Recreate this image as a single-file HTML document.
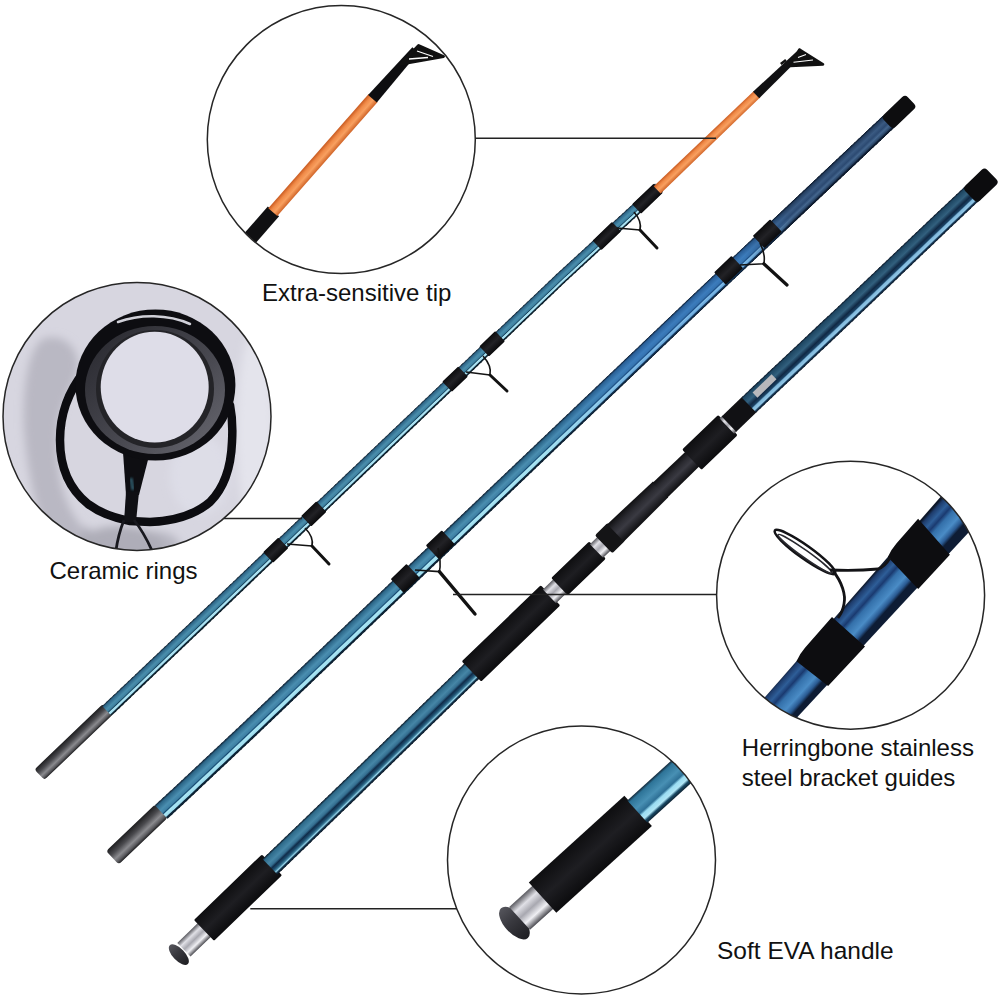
<!DOCTYPE html>
<html><head><meta charset="utf-8"><style>
html,body{margin:0;padding:0;background:#fff;width:1000px;height:1000px;overflow:hidden}
svg{display:block}
</style></head><body><svg width="1000" height="1000" viewBox="0 0 1000 1000">
<defs><linearGradient id="blueA" x1="0" y1="0" x2="0" y2="1"><stop offset="0" stop-color="#0e1e2c"/><stop offset="0.12" stop-color="#2e6688"/><stop offset="0.4" stop-color="#4a8eac"/><stop offset="0.58" stop-color="#3e80a0"/><stop offset="0.65" stop-color="#184660"/><stop offset="0.72" stop-color="#b0e6f4"/><stop offset="0.83" stop-color="#a4def0"/><stop offset="0.9" stop-color="#102838"/><stop offset="1" stop-color="#081820"/></linearGradient><linearGradient id="blueB" x1="0" y1="0" x2="0" y2="1"><stop offset="0" stop-color="#0e1e30"/><stop offset="0.12" stop-color="#2c6688"/><stop offset="0.4" stop-color="#4a8eb0"/><stop offset="0.58" stop-color="#3e80a4"/><stop offset="0.64" stop-color="#164a72"/><stop offset="0.7" stop-color="#aae6f4"/><stop offset="0.85" stop-color="#9edcee"/><stop offset="0.9" stop-color="#0e2a40"/><stop offset="1" stop-color="#081826"/></linearGradient><linearGradient id="blueC" x1="0" y1="0" x2="0" y2="1"><stop offset="0" stop-color="#0a1826"/><stop offset="0.1" stop-color="#2e6a8a"/><stop offset="0.35" stop-color="#4686a6"/><stop offset="0.5" stop-color="#346e90"/><stop offset="0.6" stop-color="#102c4a"/><stop offset="0.72" stop-color="#1e5070"/><stop offset="0.8" stop-color="#3e7e9c"/><stop offset="0.86" stop-color="#94d2e8"/><stop offset="0.92" stop-color="#143650"/><stop offset="1" stop-color="#081420"/></linearGradient><linearGradient id="blueCtop" x1="0" y1="0" x2="0" y2="1"><stop offset="0" stop-color="#0a1626"/><stop offset="0.08" stop-color="#1e4662"/><stop offset="0.35" stop-color="#32607e"/><stop offset="0.55" stop-color="#102844"/><stop offset="0.68" stop-color="#1a4264"/><stop offset="0.74" stop-color="#80b8dc"/><stop offset="0.86" stop-color="#90c6e6"/><stop offset="0.92" stop-color="#163858"/><stop offset="1" stop-color="#0a1624"/></linearGradient><linearGradient id="blueZ4" x1="0" y1="0" x2="0" y2="1"><stop offset="0" stop-color="#12283a"/><stop offset="0.1" stop-color="#2e7498"/><stop offset="0.4" stop-color="#4890b4"/><stop offset="0.6" stop-color="#2e7096"/><stop offset="0.68" stop-color="#9adcf2"/><stop offset="0.82" stop-color="#b0e6f6"/><stop offset="0.9" stop-color="#1a4a66"/><stop offset="1" stop-color="#0e2232"/></linearGradient><linearGradient id="blueBmid" x1="0" y1="0" x2="0" y2="1"><stop offset="0" stop-color="#122844"/><stop offset="0.1" stop-color="#2a609a"/><stop offset="0.4" stop-color="#3c7cbc"/><stop offset="0.58" stop-color="#3674b2"/><stop offset="0.66" stop-color="#1e5088"/><stop offset="0.72" stop-color="#80bce8"/><stop offset="0.85" stop-color="#6aa8dc"/><stop offset="0.91" stop-color="#163a60"/><stop offset="1" stop-color="#0c1e34"/></linearGradient><linearGradient id="blueBtop" x1="0" y1="0" x2="0" y2="1"><stop offset="0" stop-color="#0e1a2c"/><stop offset="0.1" stop-color="#243e60"/><stop offset="0.35" stop-color="#3a5a82"/><stop offset="0.55" stop-color="#2c4a72"/><stop offset="0.7" stop-color="#44668e"/><stop offset="0.85" stop-color="#2a4668"/><stop offset="0.92" stop-color="#12223a"/><stop offset="1" stop-color="#0a1424"/></linearGradient><linearGradient id="ferr" x1="0" y1="0" x2="0" y2="1"><stop offset="0" stop-color="#1e1e20"/><stop offset="0.35" stop-color="#4a4a4e"/><stop offset="0.65" stop-color="#8a8a8e"/><stop offset="0.85" stop-color="#5a5a5e"/><stop offset="1" stop-color="#1e1e20"/></linearGradient><linearGradient id="metal" x1="0" y1="0" x2="0" y2="1"><stop offset="0" stop-color="#5a5a60"/><stop offset="0.25" stop-color="#e0e0e6"/><stop offset="0.5" stop-color="#a8a8b0"/><stop offset="0.75" stop-color="#f0f0f4"/><stop offset="1" stop-color="#4a4a50"/></linearGradient><linearGradient id="eva" x1="0" y1="0" x2="0" y2="1"><stop offset="0" stop-color="#0e0e10"/><stop offset="0.5" stop-color="#1e1e22"/><stop offset="1" stop-color="#0c0c0e"/></linearGradient><linearGradient id="seat" x1="0" y1="0" x2="0" y2="1"><stop offset="0" stop-color="#0e0e10"/><stop offset="0.3" stop-color="#2a2a30"/><stop offset="0.55" stop-color="#3a3a42"/><stop offset="1" stop-color="#0e0e10"/></linearGradient><linearGradient id="orange" x1="0" y1="0" x2="0" y2="1"><stop offset="0" stop-color="#c85a20"/><stop offset="0.3" stop-color="#f08a48"/><stop offset="0.6" stop-color="#f8a060"/><stop offset="1" stop-color="#d06428"/></linearGradient><linearGradient id="capg" x1="0" y1="0" x2="0" y2="1"><stop offset="0" stop-color="#55555c"/><stop offset="0.4" stop-color="#3a3a40"/><stop offset="1" stop-color="#1e1e22"/></linearGradient><linearGradient id="wrap" x1="0" y1="0" x2="0" y2="1"><stop offset="0" stop-color="#0c0c0e"/><stop offset="0.5" stop-color="#222226"/><stop offset="1" stop-color="#0a0a0c"/></linearGradient>
<clipPath id="clip1"><circle cx="341.3" cy="139.6" r="134"/></clipPath>
<clipPath id="clip2"><circle cx="137" cy="416.4" r="134"/></clipPath>
<clipPath id="clip3"><circle cx="850.6" cy="595.2" r="134"/></clipPath>
<clipPath id="clip4"><circle cx="581.5" cy="860" r="134"/></clipPath>
<filter id="blur6" x="-50%" y="-50%" width="200%" height="200%"><feGaussianBlur stdDeviation="6"/></filter><filter id="blur4" x="-50%" y="-50%" width="200%" height="200%"><feGaussianBlur stdDeviation="4"/></filter><filter id="blur1"><feGaussianBlur stdDeviation="1"/></filter></defs>
<rect width="1000" height="1000" fill="#fff"/>
<g clip-path="url(#clip1)">
<g transform="translate(253,234.7) rotate(-48.7)">
 <rect x="-10" y="-7.5" width="41" height="15" fill="#101012"/>
 <rect x="30" y="-6" width="152" height="12" fill="url(#orange)"/>
 <path d="M181,-5.8 L246,-4 L246,4 L181,5.8Z" fill="#0e0e10"/>
</g>
<path d="M418.6,45.5 L443.5,56.5 L401,64Z" fill="#111" stroke="#111" stroke-width="3" stroke-linejoin="round"/>
<path d="M417,51 L433,56.5 M409,59 L428,57.5" stroke="#fff" stroke-width="1.3"/>
</g><g clip-path="url(#clip2)">
<rect x="0" y="280" width="280" height="280" fill="#d7d6e0"/>
<g filter="url(#blur4)">
<path d="M45,338 C62,334 76,345 78,362 C80,380 62,395 58,430 C55,470 62,505 85,530 C100,545 112,552 125,560 L60,565 C40,530 28,480 24,430 C22,390 28,345 45,338Z" fill="#b9b8c3"/>
<path d="M85,525 C95,540 110,550 130,556 L150,565 L80,565Z" fill="#a8a7b2"/>
<ellipse cx="150" cy="545" rx="30" ry="14" fill="#b8b7c2"/>
<ellipse cx="120" cy="548" rx="45" ry="22" fill="#aeadb8"/>
<ellipse cx="255" cy="430" rx="18" ry="100" fill="#e4e4ec"/>
<ellipse cx="200" cy="475" rx="30" ry="40" fill="#dddde7"/>
</g>
<path d="M84,372 C68,392 60,415 60,440 C60,465 68,488 88,504 C100,513 114,518 130,521 L150,522 C175,521 196,514 210,502 C224,488 231,468 232,442 C233,425 232,415 230,405" fill="none" stroke="#0c0c10" stroke-width="8.5" stroke-linecap="round"/>
<path d="M123,452 L150,452 L139,495 L126,495Z" fill="#0e0e12"/>
<path d="M126,492 L139,492 L136,522 L124,522Z" fill="#101014"/>
<path d="M124,520 C120,530 116,545 115,560 M134,520 C142,530 150,545 156,560" stroke="#18181e" stroke-width="2.8" fill="none"/>
<path d="M131,478 L133,490" stroke="#2f5a6a" stroke-width="3" fill="none" filter="url(#blur1)"/>
<ellipse cx="155.4" cy="385" rx="80" ry="75.6" fill="#0d0d11"/>
<linearGradient id="ringg" x1="0" y1="0" x2="1" y2="1"><stop offset="0" stop-color="#26262c"/><stop offset="0.6" stop-color="#4a4a52"/><stop offset="1" stop-color="#6a6a72"/></linearGradient>
<ellipse cx="155" cy="390" rx="70" ry="64" fill="url(#ringg)"/>
<ellipse cx="155" cy="389" rx="59" ry="59" fill="#242428"/>
<ellipse cx="154.7" cy="387.1" rx="54" ry="55.3" fill="#dedde8"/>
<path d="M118,322 C140,314 168,314 190,324" stroke="#d0d0d8" stroke-width="2.5" fill="none" stroke-linecap="round"/>
</g><g clip-path="url(#clip3)">
<linearGradient id="z3" gradientUnits="userSpaceOnUse" x1="853.0" y1="596.8" x2="878.3" y2="619.5">
<stop offset="0" stop-color="#0c1628"/><stop offset="0.08" stop-color="#1e3c6c"/><stop offset="0.25" stop-color="#2e5e98"/>
<stop offset="0.38" stop-color="#1a3a70"/><stop offset="0.5" stop-color="#3470aa"/><stop offset="0.75" stop-color="#4a8cc6"/>
<stop offset="0.9" stop-color="#2a5a92"/><stop offset="1" stop-color="#0e1c34"/>
</linearGradient>
<path d="M722.5,745.6 L983.5,447.9 L1011.4,486.2 L754.1,763.8Z" fill="url(#z3)"/>
<path d="M796.5,661.3 Q799.8,653.6 805.0,647.7 L832.0,616.9 L865.0,646.4 L828.1,686.1Z" fill="#0d0d10"/>
<path d="M887.8,557.0 Q891.2,549.4 896.4,543.5 L918.1,518.7 L949.9,554.8 L918.2,589.0Z" fill="#0d0d10"/>
<g transform="translate(805,552) rotate(35.5)"><ellipse cx="0" cy="0" rx="37" ry="6.5" fill="none" stroke="#131316" stroke-width="2.6"/><ellipse cx="1" cy="1.5" rx="33" ry="3.5" fill="none" stroke="#2a2a30" stroke-width="1.5"/></g>
<path d="M833,571 C842,582 846,595 844,604 C843,610 841,614 838,618" fill="none" stroke="#131316" stroke-width="2.8"/>
<path d="M830,570 C850,571 868,570 878,569 C884,567 887,563 890,558" fill="none" stroke="#131316" stroke-width="2.8"/>
</g><g clip-path="url(#clip4)">
<g transform="translate(515.9,921.75) rotate(-42.2)">
 <ellipse cx="-2" cy="0" rx="10" ry="20" fill="url(#capg)"/>
 <rect x="5" y="-15.5" width="33" height="31" fill="url(#metal)"/>
 <rect x="36" y="-20.5" width="129" height="41" fill="url(#eva)"/>
 <rect x="164" y="-15" width="140" height="30" fill="url(#blueZ4)"/>
</g>
</g>
<circle cx="341.3" cy="139.6" r="134" fill="none" stroke="#262626" stroke-width="1.5"/><circle cx="137" cy="416.4" r="134" fill="none" stroke="#262626" stroke-width="1.5"/><circle cx="850.6" cy="595.2" r="134" fill="none" stroke="#262626" stroke-width="1.5"/><circle cx="581.5" cy="860" r="134" fill="none" stroke="#262626" stroke-width="1.5"/>
<g transform="translate(42.00,774.50) rotate(-43.757)"><g transform="translate(0,-1.63)"><rect x="-2.0" y="-7.25" width="94.8" height="14.50" rx="3" fill="url(#ferr)" /></g><g transform="translate(0,-1.09)"><rect x="90.8" y="-6.75" width="7.0" height="13.49" rx="0" fill="url(#blueA)" /></g><g transform="translate(0,-1.07)"><rect x="95.8" y="-6.74" width="7.0" height="13.48" rx="0" fill="url(#blueA)" /></g><g transform="translate(0,-1.05)"><rect x="100.8" y="-6.73" width="7.0" height="13.47" rx="0" fill="url(#blueA)" /></g><g transform="translate(0,-1.03)"><rect x="105.8" y="-6.73" width="7.0" height="13.45" rx="0" fill="url(#blueA)" /></g><g transform="translate(0,-1.01)"><rect x="110.8" y="-6.72" width="7.0" height="13.44" rx="0" fill="url(#blueA)" /></g><g transform="translate(0,-0.99)"><rect x="115.8" y="-6.71" width="7.0" height="13.43" rx="0" fill="url(#blueA)" /></g><g transform="translate(0,-0.96)"><rect x="120.8" y="-6.71" width="7.0" height="13.41" rx="0" fill="url(#blueA)" /></g><g transform="translate(0,-0.94)"><rect x="125.9" y="-6.70" width="7.0" height="13.40" rx="0" fill="url(#blueA)" /></g><g transform="translate(0,-0.92)"><rect x="130.9" y="-6.69" width="7.0" height="13.39" rx="0" fill="url(#blueA)" /></g><g transform="translate(0,-0.90)"><rect x="135.9" y="-6.69" width="7.0" height="13.38" rx="0" fill="url(#blueA)" /></g><g transform="translate(0,-0.88)"><rect x="140.9" y="-6.68" width="7.0" height="13.36" rx="0" fill="url(#blueA)" /></g><g transform="translate(0,-0.86)"><rect x="145.9" y="-6.67" width="7.0" height="13.35" rx="0" fill="url(#blueA)" /></g><g transform="translate(0,-0.84)"><rect x="150.9" y="-6.67" width="7.0" height="13.34" rx="0" fill="url(#blueA)" /></g><g transform="translate(0,-0.82)"><rect x="155.9" y="-6.66" width="7.0" height="13.32" rx="0" fill="url(#blueA)" /></g><g transform="translate(0,-0.80)"><rect x="160.9" y="-6.65" width="7.0" height="13.31" rx="0" fill="url(#blueA)" /></g><g transform="translate(0,-0.78)"><rect x="165.9" y="-6.65" width="7.0" height="13.30" rx="0" fill="url(#blueA)" /></g><g transform="translate(0,-0.76)"><rect x="170.9" y="-6.64" width="7.0" height="13.28" rx="0" fill="url(#blueA)" /></g><g transform="translate(0,-0.74)"><rect x="175.9" y="-6.63" width="7.0" height="13.27" rx="0" fill="url(#blueA)" /></g><g transform="translate(0,-0.72)"><rect x="180.9" y="-6.63" width="7.0" height="13.26" rx="0" fill="url(#blueA)" /></g><g transform="translate(0,-0.70)"><rect x="185.9" y="-6.62" width="7.0" height="13.24" rx="0" fill="url(#blueA)" /></g><g transform="translate(0,-0.68)"><rect x="190.9" y="-6.62" width="7.0" height="13.23" rx="0" fill="url(#blueA)" /></g><g transform="translate(0,-0.66)"><rect x="195.9" y="-6.61" width="7.0" height="13.22" rx="0" fill="url(#blueA)" /></g><g transform="translate(0,-0.64)"><rect x="200.9" y="-6.60" width="7.0" height="13.20" rx="0" fill="url(#blueA)" /></g><g transform="translate(0,-0.62)"><rect x="205.9" y="-6.60" width="7.0" height="13.19" rx="0" fill="url(#blueA)" /></g><g transform="translate(0,-0.60)"><rect x="210.9" y="-6.59" width="7.0" height="13.18" rx="0" fill="url(#blueA)" /></g><g transform="translate(0,-0.58)"><rect x="215.9" y="-6.58" width="7.0" height="13.16" rx="0" fill="url(#blueA)" /></g><g transform="translate(0,-0.57)"><rect x="220.9" y="-6.58" width="7.0" height="13.15" rx="0" fill="url(#blueA)" /></g><g transform="translate(0,-0.56)"><rect x="225.9" y="-6.57" width="7.0" height="13.14" rx="0" fill="url(#blueA)" /></g><g transform="translate(0,-0.55)"><rect x="230.9" y="-6.56" width="7.0" height="13.12" rx="0" fill="url(#blueA)" /></g><g transform="translate(0,-0.54)"><rect x="235.9" y="-6.56" width="7.0" height="13.11" rx="0" fill="url(#blueA)" /></g><g transform="translate(0,-0.53)"><rect x="241.0" y="-6.55" width="7.0" height="13.10" rx="0" fill="url(#blueA)" /></g><g transform="translate(0,-0.52)"><rect x="246.0" y="-6.54" width="7.0" height="13.09" rx="0" fill="url(#blueA)" /></g><g transform="translate(0,-0.51)"><rect x="251.0" y="-6.54" width="7.0" height="13.07" rx="0" fill="url(#blueA)" /></g><g transform="translate(0,-0.50)"><rect x="256.0" y="-6.53" width="7.0" height="13.06" rx="0" fill="url(#blueA)" /></g><g transform="translate(0,-0.49)"><rect x="261.0" y="-6.52" width="7.0" height="13.05" rx="0" fill="url(#blueA)" /></g><g transform="translate(0,-0.48)"><rect x="266.0" y="-6.52" width="7.0" height="13.03" rx="0" fill="url(#blueA)" /></g><g transform="translate(0,-0.47)"><rect x="271.0" y="-6.51" width="7.0" height="13.02" rx="0" fill="url(#blueA)" /></g><g transform="translate(0,-0.46)"><rect x="276.0" y="-6.50" width="7.0" height="13.01" rx="0" fill="url(#blueA)" /></g><g transform="translate(0,-0.46)"><rect x="281.0" y="-6.50" width="7.0" height="12.99" rx="0" fill="url(#blueA)" /></g><g transform="translate(0,-0.45)"><rect x="286.0" y="-6.49" width="7.0" height="12.98" rx="0" fill="url(#blueA)" /></g><g transform="translate(0,-0.44)"><rect x="291.0" y="-6.48" width="7.0" height="12.97" rx="0" fill="url(#blueA)" /></g><g transform="translate(0,-0.43)"><rect x="296.0" y="-6.48" width="7.0" height="12.95" rx="0" fill="url(#blueA)" /></g><g transform="translate(0,-0.42)"><rect x="301.0" y="-6.47" width="7.0" height="12.94" rx="0" fill="url(#blueA)" /></g><g transform="translate(0,-0.41)"><rect x="306.0" y="-6.46" width="7.0" height="12.93" rx="0" fill="url(#blueA)" /></g><g transform="translate(0,-0.40)"><rect x="311.0" y="-6.46" width="7.0" height="12.91" rx="0" fill="url(#blueA)" /></g><g transform="translate(0,-0.39)"><rect x="316.0" y="-6.45" width="7.0" height="12.90" rx="0" fill="url(#blueA)" /></g><g transform="translate(0,-0.38)"><rect x="321.0" y="-6.44" width="7.0" height="12.89" rx="0" fill="url(#blueA)" /></g><g transform="translate(0,-0.37)"><rect x="326.0" y="-6.44" width="7.0" height="12.88" rx="0" fill="url(#blueA)" /></g><g transform="translate(0,-0.36)"><rect x="331.0" y="-6.43" width="7.0" height="12.86" rx="0" fill="url(#blueA)" /></g><g transform="translate(0,-0.35)"><rect x="336.0" y="-6.42" width="7.0" height="12.85" rx="0" fill="url(#blueA)" /></g><g transform="translate(0,-0.34)"><rect x="341.0" y="-6.42" width="7.0" height="12.84" rx="0" fill="url(#blueA)" /></g><g transform="translate(0,-0.33)"><rect x="346.0" y="-6.41" width="7.0" height="12.82" rx="0" fill="url(#blueA)" /></g><g transform="translate(0,-0.32)"><rect x="351.0" y="-6.40" width="7.0" height="12.81" rx="0" fill="url(#blueA)" /></g><g transform="translate(0,-0.31)"><rect x="356.1" y="-6.40" width="7.0" height="12.80" rx="0" fill="url(#blueA)" /></g><g transform="translate(0,-0.30)"><rect x="361.1" y="-6.39" width="7.0" height="12.78" rx="0" fill="url(#blueA)" /></g><g transform="translate(0,-0.29)"><rect x="366.1" y="-6.38" width="7.0" height="12.77" rx="0" fill="url(#blueA)" /></g><g transform="translate(0,-0.28)"><rect x="371.1" y="-6.38" width="7.0" height="12.76" rx="0" fill="url(#blueA)" /></g><g transform="translate(0,-0.27)"><rect x="376.1" y="-6.37" width="7.0" height="12.74" rx="0" fill="url(#blueA)" /></g><g transform="translate(0,-0.27)"><rect x="381.1" y="-6.37" width="7.0" height="12.73" rx="0" fill="url(#blueA)" /></g><g transform="translate(0,-0.26)"><rect x="386.1" y="-6.36" width="7.0" height="12.72" rx="0" fill="url(#blueA)" /></g><g transform="translate(0,-0.25)"><rect x="391.1" y="-6.35" width="7.0" height="12.70" rx="0" fill="url(#blueA)" /></g><g transform="translate(0,-0.24)"><rect x="396.1" y="-6.35" width="7.0" height="12.69" rx="0" fill="url(#blueA)" /></g><g transform="translate(0,-0.23)"><rect x="401.1" y="-6.34" width="7.0" height="12.68" rx="0" fill="url(#blueA)" /></g><g transform="translate(0,-0.22)"><rect x="406.1" y="-6.33" width="7.0" height="12.66" rx="0" fill="url(#blueA)" /></g><g transform="translate(0,-0.21)"><rect x="411.1" y="-6.33" width="7.0" height="12.65" rx="0" fill="url(#blueA)" /></g><g transform="translate(0,-0.20)"><rect x="416.1" y="-6.32" width="7.0" height="12.64" rx="0" fill="url(#blueA)" /></g><g transform="translate(0,-0.19)"><rect x="421.1" y="-6.31" width="7.0" height="12.62" rx="0" fill="url(#blueA)" /></g><g transform="translate(0,-0.18)"><rect x="426.1" y="-6.31" width="7.0" height="12.61" rx="0" fill="url(#blueA)" /></g><g transform="translate(0,-0.17)"><rect x="431.1" y="-6.30" width="7.0" height="12.60" rx="0" fill="url(#blueA)" /></g><g transform="translate(0,-0.16)"><rect x="436.1" y="-6.29" width="7.0" height="12.59" rx="0" fill="url(#blueA)" /></g><g transform="translate(0,-0.15)"><rect x="441.1" y="-6.29" width="7.0" height="12.57" rx="0" fill="url(#blueA)" /></g><g transform="translate(0,-0.14)"><rect x="446.1" y="-6.28" width="7.0" height="12.56" rx="0" fill="url(#blueA)" /></g><g transform="translate(0,-0.13)"><rect x="451.1" y="-6.27" width="7.0" height="12.55" rx="0" fill="url(#blueA)" /></g><g transform="translate(0,-0.12)"><rect x="456.1" y="-6.27" width="7.0" height="12.53" rx="0" fill="url(#blueA)" /></g><g transform="translate(0,-0.11)"><rect x="461.1" y="-6.26" width="7.0" height="12.52" rx="0" fill="url(#blueA)" /></g><g transform="translate(0,-0.10)"><rect x="466.1" y="-6.25" width="7.0" height="12.51" rx="0" fill="url(#blueA)" /></g><g transform="translate(0,-0.09)"><rect x="471.1" y="-6.25" width="7.0" height="12.49" rx="0" fill="url(#blueA)" /></g><g transform="translate(0,-0.08)"><rect x="476.2" y="-6.24" width="7.0" height="12.48" rx="0" fill="url(#blueA)" /></g><g transform="translate(0,-0.08)"><rect x="481.2" y="-6.23" width="7.0" height="12.47" rx="0" fill="url(#blueA)" /></g><g transform="translate(0,-0.07)"><rect x="486.2" y="-6.23" width="7.0" height="12.45" rx="0" fill="url(#blueA)" /></g><g transform="translate(0,-0.06)"><rect x="491.2" y="-6.22" width="7.0" height="12.44" rx="0" fill="url(#blueA)" /></g><g transform="translate(0,-0.05)"><rect x="496.2" y="-6.21" width="7.0" height="12.43" rx="0" fill="url(#blueA)" /></g><g transform="translate(0,-0.04)"><rect x="501.2" y="-6.21" width="7.0" height="12.41" rx="0" fill="url(#blueA)" /></g><g transform="translate(0,-0.03)"><rect x="506.2" y="-6.20" width="7.0" height="12.40" rx="0" fill="url(#blueA)" /></g><g transform="translate(0,-0.02)"><rect x="511.2" y="-6.19" width="7.0" height="12.39" rx="0" fill="url(#blueA)" /></g><g transform="translate(0,-0.01)"><rect x="516.2" y="-6.19" width="7.0" height="12.38" rx="0" fill="url(#blueA)" /></g><g transform="translate(0,0.00)"><rect x="521.2" y="-6.18" width="7.0" height="12.36" rx="0" fill="url(#blueA)" /></g><g transform="translate(0,0.01)"><rect x="526.2" y="-6.17" width="7.0" height="12.35" rx="0" fill="url(#blueA)" /></g><g transform="translate(0,0.02)"><rect x="531.2" y="-6.17" width="7.0" height="12.34" rx="0" fill="url(#blueA)" /></g><g transform="translate(0,0.03)"><rect x="536.2" y="-6.16" width="7.0" height="12.32" rx="0" fill="url(#blueA)" /></g><g transform="translate(0,0.04)"><rect x="541.2" y="-6.15" width="7.0" height="12.31" rx="0" fill="url(#blueA)" /></g><g transform="translate(0,0.05)"><rect x="546.2" y="-6.15" width="7.0" height="12.30" rx="0" fill="url(#blueA)" /></g><g transform="translate(0,0.06)"><rect x="551.2" y="-6.14" width="7.0" height="12.28" rx="0" fill="url(#blueA)" /></g><g transform="translate(0,0.07)"><rect x="556.2" y="-6.13" width="7.0" height="12.27" rx="0" fill="url(#blueA)" /></g><g transform="translate(0,0.08)"><rect x="561.2" y="-6.13" width="7.0" height="12.26" rx="0" fill="url(#blueA)" /></g><g transform="translate(0,0.08)"><rect x="566.2" y="-6.12" width="7.0" height="12.24" rx="0" fill="url(#blueA)" /></g><g transform="translate(0,0.09)"><rect x="571.2" y="-6.12" width="7.0" height="12.23" rx="0" fill="url(#blueA)" /></g><g transform="translate(0,0.10)"><rect x="576.2" y="-6.11" width="7.0" height="12.22" rx="0" fill="url(#blueA)" /></g><g transform="translate(0,0.11)"><rect x="581.2" y="-6.10" width="7.0" height="12.20" rx="0" fill="url(#blueA)" /></g><g transform="translate(0,0.12)"><rect x="586.2" y="-6.10" width="7.0" height="12.19" rx="0" fill="url(#blueA)" /></g><g transform="translate(0,0.13)"><rect x="591.3" y="-6.09" width="7.0" height="12.18" rx="0" fill="url(#blueA)" /></g><g transform="translate(0,0.14)"><rect x="596.3" y="-6.08" width="7.0" height="12.16" rx="0" fill="url(#blueA)" /></g><g transform="translate(0,0.15)"><rect x="601.3" y="-6.08" width="7.0" height="12.15" rx="0" fill="url(#blueA)" /></g><g transform="translate(0,0.16)"><rect x="606.3" y="-6.07" width="7.0" height="12.14" rx="0" fill="url(#blueA)" /></g><g transform="translate(0,0.17)"><rect x="611.3" y="-6.06" width="7.0" height="12.12" rx="0" fill="url(#blueA)" /></g><g transform="translate(0,0.18)"><rect x="616.3" y="-6.06" width="7.0" height="12.11" rx="0" fill="url(#blueA)" /></g><g transform="translate(0,0.19)"><rect x="621.3" y="-6.05" width="7.0" height="12.10" rx="0" fill="url(#blueA)" /></g><g transform="translate(0,0.20)"><rect x="626.3" y="-6.04" width="7.0" height="12.09" rx="0" fill="url(#blueA)" /></g><g transform="translate(0,0.21)"><rect x="631.3" y="-6.04" width="7.0" height="12.07" rx="0" fill="url(#blueA)" /></g><g transform="translate(0,0.22)"><rect x="636.3" y="-6.03" width="7.0" height="12.06" rx="0" fill="url(#blueA)" /></g><g transform="translate(0,0.22)"><rect x="641.3" y="-6.02" width="7.0" height="12.05" rx="0" fill="url(#blueA)" /></g><g transform="translate(0,0.23)"><rect x="646.3" y="-6.02" width="7.0" height="12.03" rx="0" fill="url(#blueA)" /></g><g transform="translate(0,0.24)"><rect x="651.3" y="-6.01" width="7.0" height="12.02" rx="0" fill="url(#blueA)" /></g><g transform="translate(0,0.25)"><rect x="656.3" y="-6.00" width="7.0" height="12.01" rx="0" fill="url(#blueA)" /></g><g transform="translate(0,0.26)"><rect x="661.3" y="-6.00" width="7.0" height="11.99" rx="0" fill="url(#blueA)" /></g><g transform="translate(0,0.27)"><rect x="666.3" y="-5.99" width="7.0" height="11.98" rx="0" fill="url(#blueA)" /></g><g transform="translate(0,0.28)"><rect x="671.3" y="-5.98" width="7.0" height="11.97" rx="0" fill="url(#blueA)" /></g><g transform="translate(0,0.29)"><rect x="676.3" y="-5.98" width="7.0" height="11.95" rx="0" fill="url(#blueA)" /></g><g transform="translate(0,0.30)"><rect x="681.3" y="-5.97" width="7.0" height="11.94" rx="0" fill="url(#blueA)" /></g><g transform="translate(0,0.31)"><rect x="686.3" y="-5.96" width="7.0" height="11.93" rx="0" fill="url(#blueA)" /></g><g transform="translate(0,0.32)"><rect x="691.3" y="-5.96" width="7.0" height="11.91" rx="0" fill="url(#blueA)" /></g><g transform="translate(0,0.33)"><rect x="696.3" y="-5.95" width="7.0" height="11.90" rx="0" fill="url(#blueA)" /></g><g transform="translate(0,0.34)"><rect x="701.3" y="-5.94" width="7.0" height="11.89" rx="0" fill="url(#blueA)" /></g><g transform="translate(0,0.35)"><rect x="706.3" y="-5.94" width="7.0" height="11.88" rx="0" fill="url(#blueA)" /></g><g transform="translate(0,0.35)"><rect x="711.4" y="-5.93" width="7.0" height="11.86" rx="0" fill="url(#blueA)" /></g><g transform="translate(0,0.40)"><rect x="716.4" y="-5.92" width="7.0" height="11.85" rx="0" fill="url(#blueA)" /></g><g transform="translate(0,0.50)"><rect x="721.4" y="-5.92" width="7.0" height="11.84" rx="0" fill="url(#blueA)" /></g><g transform="translate(0,0.60)"><rect x="726.4" y="-5.91" width="7.0" height="11.82" rx="0" fill="url(#blueA)" /></g><g transform="translate(0,0.70)"><rect x="731.4" y="-5.90" width="7.0" height="11.81" rx="0" fill="url(#blueA)" /></g><g transform="translate(0,0.80)"><rect x="736.4" y="-5.90" width="7.0" height="11.80" rx="0" fill="url(#blueA)" /></g><g transform="translate(0,0.90)"><rect x="741.4" y="-5.89" width="7.0" height="11.78" rx="0" fill="url(#blueA)" /></g><g transform="translate(0,1.00)"><rect x="746.4" y="-5.88" width="7.0" height="11.77" rx="0" fill="url(#blueA)" /></g><g transform="translate(0,1.11)"><rect x="751.4" y="-5.88" width="7.0" height="11.76" rx="0" fill="url(#blueA)" /></g><g transform="translate(0,1.21)"><rect x="756.4" y="-5.87" width="7.0" height="11.74" rx="0" fill="url(#blueA)" /></g><g transform="translate(0,1.31)"><rect x="761.4" y="-5.87" width="7.0" height="11.73" rx="0" fill="url(#blueA)" /></g><g transform="translate(0,1.41)"><rect x="766.4" y="-5.86" width="7.0" height="11.72" rx="0" fill="url(#blueA)" /></g><g transform="translate(0,1.51)"><rect x="771.4" y="-5.85" width="7.0" height="11.70" rx="0" fill="url(#blueA)" /></g><g transform="translate(0,1.61)"><rect x="776.4" y="-5.85" width="7.0" height="11.69" rx="0" fill="url(#blueA)" /></g><g transform="translate(0,1.72)"><rect x="781.4" y="-5.84" width="7.0" height="11.68" rx="0" fill="url(#blueA)" /></g><g transform="translate(0,1.82)"><rect x="786.4" y="-5.83" width="7.0" height="11.66" rx="0" fill="url(#blueA)" /></g><g transform="translate(0,1.92)"><rect x="791.4" y="-5.83" width="7.0" height="11.65" rx="0" fill="url(#blueA)" /></g><g transform="translate(0,2.02)"><rect x="796.4" y="-5.82" width="7.0" height="11.64" rx="0" fill="url(#blueA)" /></g><g transform="translate(0,2.12)"><rect x="801.4" y="-5.81" width="7.0" height="11.62" rx="0" fill="url(#blueA)" /></g><g transform="translate(0,2.22)"><rect x="806.4" y="-5.81" width="7.0" height="11.61" rx="0" fill="url(#blueA)" /></g><g transform="translate(0,2.32)"><rect x="811.4" y="-5.80" width="7.0" height="11.60" rx="0" fill="url(#blueA)" /></g><g transform="translate(0,2.43)"><rect x="816.4" y="-5.79" width="7.0" height="11.59" rx="0" fill="url(#blueA)" /></g><g transform="translate(0,2.53)"><rect x="821.4" y="-5.79" width="7.0" height="11.57" rx="0" fill="url(#blueA)" /></g><g transform="translate(0,2.63)"><rect x="826.5" y="-5.78" width="7.0" height="11.56" rx="0" fill="url(#blueA)" /></g><g transform="translate(0,2.73)"><rect x="831.5" y="-5.77" width="7.0" height="11.55" rx="0" fill="url(#blueA)" /></g><g transform="translate(0,2.83)"><rect x="836.5" y="-5.77" width="7.0" height="11.53" rx="0" fill="url(#blueA)" /></g><g transform="translate(0,2.90)"><rect x="841.5" y="-5.76" width="7.0" height="11.52" rx="0" fill="url(#blueA)" /></g><g transform="translate(0,2.92)"><rect x="846.5" y="-5.75" width="5.0" height="11.51" rx="0" fill="url(#blueA)" /></g><g transform="translate(0,-0.38)"><rect x="313.5" y="-7.25" width="21.0" height="14.50" rx="1" fill="url(#wrap)" /></g><g transform="translate(0,-0.28)"><rect x="366.1" y="-7.25" width="21.0" height="14.50" rx="1" fill="url(#wrap)" /></g><g transform="translate(0,0.09)"><rect x="560.8" y="-7.00" width="22.0" height="14.00" rx="1" fill="url(#wrap)" /></g><g transform="translate(0,0.19)"><rect x="612.0" y="-7.00" width="22.0" height="14.00" rx="1" fill="url(#wrap)" /></g><g transform="translate(0,1.64)"><rect x="766.9" y="-6.50" width="27.0" height="13.00" rx="1" fill="url(#wrap)" /></g><g transform="translate(0,2.76)"><rect x="820.6" y="-6.50" width="30.0" height="13.00" rx="1" fill="url(#wrap)" /></g><g transform="translate(0,3.17)"><path d="M848.7,-5.00 L987.2,-4.50 L987.2,4.50 L848.7,5.00Z" fill="url(#orange)" /></g><g transform="translate(0,3.04)"><path d="M985.8,-4.50 L1049.5,-3.25 L1049.5,3.25 L985.8,4.50Z" fill="#111113" /></g></g>
<path d="M799.5,49.5 L823,64.4 L790.4,66Z" fill="#111" stroke="#111" stroke-width="2.6" stroke-linejoin="round"/><path d="M793.5,62.2 L813,60 M798,57.5 L806,54.5" stroke="#fff" stroke-width="1.1"/><path d="M780.8,64 L786,60" stroke="#111" stroke-width="2.6"/>
<g transform="translate(115.00,857.60) rotate(-43.640)"><g transform="translate(0,-1.66)"><rect x="-2.0" y="-9.25" width="67.9" height="18.50" rx="3.5" fill="url(#ferr)" /></g><g transform="translate(0,-1.08)"><rect x="64.9" y="-9.25" width="7.0" height="18.49" rx="0" fill="url(#blueB)" /></g><g transform="translate(0,-1.00)"><rect x="70.0" y="-9.24" width="7.0" height="18.48" rx="0" fill="url(#blueB)" /></g><g transform="translate(0,-0.92)"><rect x="75.0" y="-9.23" width="7.0" height="18.47" rx="0" fill="url(#blueB)" /></g><g transform="translate(0,-0.84)"><rect x="80.0" y="-9.23" width="7.0" height="18.46" rx="0" fill="url(#blueB)" /></g><g transform="translate(0,-0.76)"><rect x="85.0" y="-9.22" width="7.0" height="18.44" rx="0" fill="url(#blueB)" /></g><g transform="translate(0,-0.70)"><rect x="90.0" y="-9.22" width="7.0" height="18.43" rx="0" fill="url(#blueB)" /></g><g transform="translate(0,-0.67)"><rect x="95.0" y="-9.21" width="7.0" height="18.42" rx="0" fill="url(#blueB)" /></g><g transform="translate(0,-0.63)"><rect x="100.1" y="-9.20" width="7.0" height="18.41" rx="0" fill="url(#blueB)" /></g><g transform="translate(0,-0.59)"><rect x="105.1" y="-9.20" width="7.0" height="18.39" rx="0" fill="url(#blueB)" /></g><g transform="translate(0,-0.55)"><rect x="110.1" y="-9.19" width="7.0" height="18.38" rx="0" fill="url(#blueB)" /></g><g transform="translate(0,-0.52)"><rect x="115.1" y="-9.18" width="7.0" height="18.37" rx="0" fill="url(#blueB)" /></g><g transform="translate(0,-0.48)"><rect x="120.1" y="-9.18" width="7.0" height="18.36" rx="0" fill="url(#blueB)" /></g><g transform="translate(0,-0.44)"><rect x="125.1" y="-9.17" width="7.0" height="18.34" rx="0" fill="url(#blueB)" /></g><g transform="translate(0,-0.40)"><rect x="130.2" y="-9.17" width="7.0" height="18.33" rx="0" fill="url(#blueB)" /></g><g transform="translate(0,-0.37)"><rect x="135.2" y="-9.16" width="7.0" height="18.32" rx="0" fill="url(#blueB)" /></g><g transform="translate(0,-0.33)"><rect x="140.2" y="-9.15" width="7.0" height="18.31" rx="0" fill="url(#blueB)" /></g><g transform="translate(0,-0.29)"><rect x="145.2" y="-9.15" width="7.0" height="18.29" rx="0" fill="url(#blueB)" /></g><g transform="translate(0,-0.25)"><rect x="150.2" y="-9.14" width="7.0" height="18.28" rx="0" fill="url(#blueB)" /></g><g transform="translate(0,-0.22)"><rect x="155.2" y="-9.13" width="7.0" height="18.27" rx="0" fill="url(#blueB)" /></g><g transform="translate(0,-0.18)"><rect x="160.2" y="-9.13" width="7.0" height="18.26" rx="0" fill="url(#blueB)" /></g><g transform="translate(0,-0.14)"><rect x="165.3" y="-9.12" width="7.0" height="18.24" rx="0" fill="url(#blueB)" /></g><g transform="translate(0,-0.10)"><rect x="170.3" y="-9.12" width="7.0" height="18.23" rx="0" fill="url(#blueB)" /></g><g transform="translate(0,-0.07)"><rect x="175.3" y="-9.11" width="7.0" height="18.22" rx="0" fill="url(#blueB)" /></g><g transform="translate(0,-0.03)"><rect x="180.3" y="-9.10" width="7.0" height="18.21" rx="0" fill="url(#blueB)" /></g><g transform="translate(0,0.00)"><rect x="185.3" y="-9.10" width="7.0" height="18.19" rx="0" fill="url(#blueB)" /></g><g transform="translate(0,0.00)"><rect x="190.3" y="-9.09" width="7.0" height="18.18" rx="0" fill="url(#blueB)" /></g><g transform="translate(0,0.00)"><rect x="195.4" y="-9.08" width="7.0" height="18.17" rx="0" fill="url(#blueB)" /></g><g transform="translate(0,0.00)"><rect x="200.4" y="-9.08" width="7.0" height="18.16" rx="0" fill="url(#blueB)" /></g><g transform="translate(0,0.00)"><rect x="205.4" y="-9.07" width="7.0" height="18.14" rx="0" fill="url(#blueB)" /></g><g transform="translate(0,0.00)"><rect x="210.4" y="-9.07" width="7.0" height="18.13" rx="0" fill="url(#blueB)" /></g><g transform="translate(0,0.00)"><rect x="215.4" y="-9.06" width="7.0" height="18.12" rx="0" fill="url(#blueB)" /></g><g transform="translate(0,0.00)"><rect x="220.4" y="-9.05" width="7.0" height="18.11" rx="0" fill="url(#blueB)" /></g><g transform="translate(0,0.00)"><rect x="225.5" y="-9.05" width="7.0" height="18.09" rx="0" fill="url(#blueB)" /></g><g transform="translate(0,0.00)"><rect x="230.5" y="-9.04" width="7.0" height="18.08" rx="0" fill="url(#blueB)" /></g><g transform="translate(0,0.00)"><rect x="235.5" y="-9.03" width="7.0" height="18.07" rx="0" fill="url(#blueB)" /></g><g transform="translate(0,0.00)"><rect x="240.5" y="-9.03" width="7.0" height="18.06" rx="0" fill="url(#blueB)" /></g><g transform="translate(0,0.00)"><rect x="245.5" y="-9.02" width="7.0" height="18.04" rx="0" fill="url(#blueB)" /></g><g transform="translate(0,0.00)"><rect x="250.5" y="-9.02" width="7.0" height="18.03" rx="0" fill="url(#blueB)" /></g><g transform="translate(0,0.00)"><rect x="255.6" y="-9.01" width="7.0" height="18.02" rx="0" fill="url(#blueB)" /></g><g transform="translate(0,0.00)"><rect x="260.6" y="-9.00" width="7.0" height="18.01" rx="0" fill="url(#blueB)" /></g><g transform="translate(0,0.00)"><rect x="265.6" y="-9.00" width="7.0" height="17.99" rx="0" fill="url(#blueB)" /></g><g transform="translate(0,0.00)"><rect x="270.6" y="-8.99" width="7.0" height="17.98" rx="0" fill="url(#blueB)" /></g><g transform="translate(0,0.00)"><rect x="275.6" y="-8.98" width="7.0" height="17.97" rx="0" fill="url(#blueB)" /></g><g transform="translate(0,0.00)"><rect x="280.6" y="-8.98" width="7.0" height="17.96" rx="0" fill="url(#blueB)" /></g><g transform="translate(0,0.00)"><rect x="285.6" y="-8.97" width="7.0" height="17.94" rx="0" fill="url(#blueB)" /></g><g transform="translate(0,0.00)"><rect x="290.7" y="-8.97" width="7.0" height="17.93" rx="0" fill="url(#blueB)" /></g><g transform="translate(0,0.00)"><rect x="295.7" y="-8.96" width="7.0" height="17.92" rx="0" fill="url(#blueB)" /></g><g transform="translate(0,0.00)"><rect x="300.7" y="-8.95" width="7.0" height="17.91" rx="0" fill="url(#blueB)" /></g><g transform="translate(0,0.00)"><rect x="305.7" y="-8.95" width="7.0" height="17.89" rx="0" fill="url(#blueB)" /></g><g transform="translate(0,0.00)"><rect x="310.7" y="-8.94" width="7.0" height="17.88" rx="0" fill="url(#blueB)" /></g><g transform="translate(0,0.00)"><rect x="315.7" y="-8.93" width="7.0" height="17.87" rx="0" fill="url(#blueB)" /></g><g transform="translate(0,0.00)"><rect x="320.8" y="-8.93" width="7.0" height="17.86" rx="0" fill="url(#blueB)" /></g><g transform="translate(0,0.00)"><rect x="325.8" y="-8.92" width="7.0" height="17.84" rx="0" fill="url(#blueB)" /></g><g transform="translate(0,0.00)"><rect x="330.8" y="-8.92" width="7.0" height="17.83" rx="0" fill="url(#blueB)" /></g><g transform="translate(0,0.00)"><rect x="335.8" y="-8.91" width="7.0" height="17.82" rx="0" fill="url(#blueB)" /></g><g transform="translate(0,0.00)"><rect x="340.8" y="-8.90" width="7.0" height="17.81" rx="0" fill="url(#blueB)" /></g><g transform="translate(0,0.00)"><rect x="345.8" y="-8.90" width="7.0" height="17.79" rx="0" fill="url(#blueB)" /></g><g transform="translate(0,0.00)"><rect x="350.9" y="-8.89" width="7.0" height="17.78" rx="0" fill="url(#blueB)" /></g><g transform="translate(0,0.00)"><rect x="355.9" y="-8.88" width="7.0" height="17.77" rx="0" fill="url(#blueB)" /></g><g transform="translate(0,0.00)"><rect x="360.9" y="-8.88" width="7.0" height="17.76" rx="0" fill="url(#blueB)" /></g><g transform="translate(0,0.00)"><rect x="365.9" y="-8.87" width="7.0" height="17.74" rx="0" fill="url(#blueB)" /></g><g transform="translate(0,0.00)"><rect x="370.9" y="-8.87" width="7.0" height="17.73" rx="0" fill="url(#blueB)" /></g><g transform="translate(0,0.00)"><rect x="375.9" y="-8.86" width="7.0" height="17.72" rx="0" fill="url(#blueB)" /></g><g transform="translate(0,0.00)"><rect x="381.0" y="-8.85" width="7.0" height="17.71" rx="0" fill="url(#blueB)" /></g><g transform="translate(0,0.00)"><rect x="386.0" y="-8.85" width="7.0" height="17.69" rx="0" fill="url(#blueB)" /></g><g transform="translate(0,0.00)"><rect x="391.0" y="-8.84" width="7.0" height="17.68" rx="0" fill="url(#blueB)" /></g><g transform="translate(0,0.00)"><rect x="396.0" y="-8.83" width="7.0" height="17.67" rx="0" fill="url(#blueB)" /></g><g transform="translate(0,0.00)"><rect x="401.0" y="-8.83" width="7.0" height="17.66" rx="0" fill="url(#blueB)" /></g><g transform="translate(0,0.00)"><rect x="406.0" y="-8.82" width="7.0" height="17.64" rx="0" fill="url(#blueB)" /></g><g transform="translate(0,0.00)"><rect x="411.0" y="-8.82" width="7.0" height="17.63" rx="0" fill="url(#blueB)" /></g><g transform="translate(0,0.00)"><rect x="416.1" y="-8.81" width="7.0" height="17.62" rx="0" fill="url(#blueB)" /></g><g transform="translate(0,0.00)"><rect x="421.1" y="-8.80" width="7.0" height="17.61" rx="0" fill="url(#blueB)" /></g><g transform="translate(0,0.00)"><rect x="426.1" y="-8.80" width="7.0" height="17.59" rx="0" fill="url(#blueB)" /></g><g transform="translate(0,0.00)"><rect x="431.1" y="-8.79" width="7.0" height="17.58" rx="0" fill="url(#blueB)" /></g><g transform="translate(0,0.00)"><rect x="436.1" y="-8.78" width="7.0" height="17.57" rx="0" fill="url(#blueB)" /></g><g transform="translate(0,0.00)"><rect x="441.1" y="-8.78" width="7.0" height="17.56" rx="0" fill="url(#blueB)" /></g><g transform="translate(0,0.00)"><rect x="446.2" y="-8.77" width="7.0" height="17.54" rx="0" fill="url(#blueB)" /></g><g transform="translate(0,0.00)"><rect x="451.2" y="-8.77" width="7.0" height="17.53" rx="0" fill="url(#blueB)" /></g><g transform="translate(0,0.00)"><rect x="456.2" y="-8.76" width="7.0" height="17.52" rx="0" fill="url(#blueB)" /></g><g transform="translate(0,0.00)"><rect x="461.2" y="-8.75" width="7.0" height="17.51" rx="0" fill="url(#blueB)" /></g><g transform="translate(0,0.00)"><rect x="466.2" y="-8.75" width="7.0" height="17.49" rx="0" fill="url(#blueB)" /></g><g transform="translate(0,0.00)"><rect x="471.2" y="-8.74" width="7.0" height="17.48" rx="0" fill="url(#blueB)" /></g><g transform="translate(0,0.00)"><rect x="476.3" y="-8.73" width="7.0" height="17.47" rx="0" fill="url(#blueB)" /></g><g transform="translate(0,0.00)"><rect x="481.3" y="-8.73" width="7.0" height="17.46" rx="0" fill="url(#blueB)" /></g><g transform="translate(0,0.00)"><rect x="486.3" y="-8.72" width="7.0" height="17.44" rx="0" fill="url(#blueB)" /></g><g transform="translate(0,0.00)"><rect x="491.3" y="-8.72" width="7.0" height="17.43" rx="0" fill="url(#blueB)" /></g><g transform="translate(0,0.00)"><rect x="496.3" y="-8.71" width="7.0" height="17.42" rx="0" fill="url(#blueB)" /></g><g transform="translate(0,0.00)"><rect x="501.3" y="-8.70" width="7.0" height="17.41" rx="0" fill="url(#blueB)" /></g><g transform="translate(0,0.00)"><rect x="506.3" y="-8.70" width="7.0" height="17.39" rx="0" fill="url(#blueB)" /></g><g transform="translate(0,0.00)"><rect x="511.4" y="-8.69" width="7.0" height="17.38" rx="0" fill="url(#blueB)" /></g><g transform="translate(0,0.00)"><rect x="516.4" y="-8.68" width="7.0" height="17.37" rx="0" fill="url(#blueB)" /></g><g transform="translate(0,0.00)"><rect x="521.4" y="-8.68" width="7.0" height="17.36" rx="0" fill="url(#blueB)" /></g><g transform="translate(0,0.00)"><rect x="526.4" y="-8.67" width="7.0" height="17.34" rx="0" fill="url(#blueB)" /></g><g transform="translate(0,0.00)"><rect x="531.4" y="-8.67" width="7.0" height="17.33" rx="0" fill="url(#blueB)" /></g><g transform="translate(0,0.00)"><rect x="536.4" y="-8.66" width="7.0" height="17.32" rx="0" fill="url(#blueB)" /></g><g transform="translate(0,0.00)"><rect x="541.5" y="-8.65" width="7.0" height="17.31" rx="0" fill="url(#blueB)" /></g><g transform="translate(0,0.00)"><rect x="546.5" y="-8.65" width="7.0" height="17.29" rx="0" fill="url(#blueB)" /></g><g transform="translate(0,0.00)"><rect x="551.5" y="-8.64" width="7.0" height="17.28" rx="0" fill="url(#blueB)" /></g><g transform="translate(0,0.00)"><rect x="556.5" y="-8.63" width="7.0" height="17.27" rx="0" fill="url(#blueB)" /></g><g transform="translate(0,0.00)"><rect x="561.5" y="-8.63" width="7.0" height="17.26" rx="0" fill="url(#blueB)" /></g><g transform="translate(0,0.00)"><rect x="566.5" y="-8.62" width="7.0" height="17.24" rx="0" fill="url(#blueB)" /></g><g transform="translate(0,0.00)"><rect x="571.6" y="-8.62" width="7.0" height="17.23" rx="0" fill="url(#blueB)" /></g><g transform="translate(0,0.00)"><rect x="576.6" y="-8.61" width="7.0" height="17.22" rx="0" fill="url(#blueB)" /></g><g transform="translate(0,0.00)"><rect x="581.6" y="-8.60" width="7.0" height="17.21" rx="0" fill="url(#blueB)" /></g><g transform="translate(0,0.00)"><rect x="586.6" y="-8.60" width="7.0" height="17.19" rx="0" fill="url(#blueB)" /></g><g transform="translate(0,0.00)"><rect x="591.6" y="-8.59" width="7.0" height="17.18" rx="0" fill="url(#blueB)" /></g><g transform="translate(0,0.00)"><rect x="596.6" y="-8.58" width="7.0" height="17.17" rx="0" fill="url(#blueB)" /></g><g transform="translate(0,0.00)"><rect x="601.7" y="-8.58" width="7.0" height="17.16" rx="0" fill="url(#blueB)" /></g><g transform="translate(0,0.00)"><rect x="606.7" y="-8.57" width="7.0" height="17.14" rx="0" fill="url(#blueB)" /></g><g transform="translate(0,0.00)"><rect x="611.7" y="-8.57" width="7.0" height="17.13" rx="0" fill="url(#blueB)" /></g><g transform="translate(0,0.00)"><rect x="616.7" y="-8.56" width="7.0" height="17.12" rx="0" fill="url(#blueB)" /></g><g transform="translate(0,0.00)"><rect x="621.7" y="-8.55" width="7.0" height="17.11" rx="0" fill="url(#blueB)" /></g><g transform="translate(0,0.00)"><rect x="626.7" y="-8.55" width="7.0" height="17.09" rx="0" fill="url(#blueB)" /></g><g transform="translate(0,0.00)"><rect x="631.7" y="-8.54" width="7.0" height="17.08" rx="0" fill="url(#blueB)" /></g><g transform="translate(0,0.00)"><rect x="636.8" y="-8.53" width="7.0" height="17.07" rx="0" fill="url(#blueB)" /></g><g transform="translate(0,0.00)"><rect x="641.8" y="-8.53" width="7.0" height="17.06" rx="0" fill="url(#blueB)" /></g><g transform="translate(0,0.00)"><rect x="646.8" y="-8.52" width="7.0" height="17.04" rx="0" fill="url(#blueB)" /></g><g transform="translate(0,0.00)"><rect x="651.8" y="-8.52" width="7.0" height="17.03" rx="0" fill="url(#blueB)" /></g><g transform="translate(0,0.00)"><rect x="656.8" y="-8.51" width="7.0" height="17.02" rx="0" fill="url(#blueB)" /></g><g transform="translate(0,0.00)"><rect x="661.8" y="-8.50" width="7.0" height="17.01" rx="0" fill="url(#blueB)" /></g><g transform="translate(0,0.00)"><rect x="666.9" y="-8.50" width="7.0" height="16.99" rx="0" fill="url(#blueB)" /></g><g transform="translate(0,0.00)"><rect x="671.9" y="-8.49" width="7.0" height="16.98" rx="0" fill="url(#blueB)" /></g><g transform="translate(0,0.00)"><rect x="676.9" y="-8.48" width="7.0" height="16.97" rx="0" fill="url(#blueB)" /></g><g transform="translate(0,0.00)"><rect x="681.9" y="-8.48" width="7.0" height="16.96" rx="0" fill="url(#blueB)" /></g><g transform="translate(0,0.00)"><rect x="686.9" y="-8.47" width="7.0" height="16.94" rx="0" fill="url(#blueB)" /></g><g transform="translate(0,0.00)"><rect x="691.9" y="-8.47" width="7.0" height="16.93" rx="0" fill="url(#blueB)" /></g><g transform="translate(0,0.00)"><rect x="697.0" y="-8.46" width="7.0" height="16.92" rx="0" fill="url(#blueB)" /></g><g transform="translate(0,0.00)"><rect x="702.0" y="-8.45" width="7.0" height="16.91" rx="0" fill="url(#blueB)" /></g><g transform="translate(0,0.00)"><rect x="707.0" y="-8.45" width="7.0" height="16.89" rx="0" fill="url(#blueB)" /></g><g transform="translate(0,0.00)"><rect x="712.0" y="-8.44" width="7.0" height="16.88" rx="0" fill="url(#blueB)" /></g><g transform="translate(0,0.00)"><rect x="717.0" y="-8.43" width="7.0" height="16.87" rx="0" fill="url(#blueB)" /></g><g transform="translate(0,0.00)"><rect x="722.0" y="-8.43" width="7.0" height="16.86" rx="0" fill="url(#blueB)" /></g><g transform="translate(0,0.00)"><rect x="727.1" y="-8.42" width="7.0" height="16.84" rx="0" fill="url(#blueB)" /></g><g transform="translate(0,0.00)"><rect x="732.1" y="-8.42" width="7.0" height="16.83" rx="0" fill="url(#blueB)" /></g><g transform="translate(0,0.00)"><rect x="737.1" y="-8.41" width="7.0" height="16.82" rx="0" fill="url(#blueB)" /></g><g transform="translate(0,0.00)"><rect x="742.1" y="-8.40" width="7.0" height="16.81" rx="0" fill="url(#blueB)" /></g><g transform="translate(0,0.00)"><rect x="747.1" y="-8.40" width="7.0" height="16.79" rx="0" fill="url(#blueB)" /></g><g transform="translate(0,0.00)"><rect x="752.1" y="-8.39" width="7.0" height="16.78" rx="0" fill="url(#blueB)" /></g><g transform="translate(0,0.00)"><rect x="757.1" y="-8.38" width="7.0" height="16.77" rx="0" fill="url(#blueB)" /></g><g transform="translate(0,0.00)"><rect x="762.2" y="-8.38" width="7.0" height="16.76" rx="0" fill="url(#blueB)" /></g><g transform="translate(0,0.00)"><rect x="767.2" y="-8.37" width="7.0" height="16.74" rx="0" fill="url(#blueB)" /></g><g transform="translate(0,0.00)"><rect x="772.2" y="-8.37" width="7.0" height="16.73" rx="0" fill="url(#blueB)" /></g><g transform="translate(0,0.00)"><rect x="777.2" y="-8.36" width="7.0" height="16.72" rx="0" fill="url(#blueB)" /></g><g transform="translate(0,0.00)"><rect x="782.2" y="-8.35" width="7.0" height="16.71" rx="0" fill="url(#blueB)" /></g><g transform="translate(0,0.00)"><rect x="787.2" y="-8.35" width="7.0" height="16.69" rx="0" fill="url(#blueB)" /></g><g transform="translate(0,0.00)"><rect x="792.3" y="-8.34" width="7.0" height="16.68" rx="0" fill="url(#blueB)" /></g><g transform="translate(0,0.00)"><rect x="797.3" y="-8.33" width="7.0" height="16.67" rx="0" fill="url(#blueB)" /></g><g transform="translate(0,0.00)"><rect x="802.3" y="-8.33" width="7.0" height="16.66" rx="0" fill="url(#blueB)" /></g><g transform="translate(0,0.01)"><rect x="807.3" y="-8.32" width="7.0" height="16.64" rx="0" fill="url(#blueB)" /></g><g transform="translate(0,0.03)"><rect x="812.3" y="-8.32" width="7.0" height="16.63" rx="0" fill="url(#blueB)" /></g><g transform="translate(0,0.06)"><rect x="817.3" y="-8.31" width="7.0" height="16.62" rx="0" fill="url(#blueB)" /></g><g transform="translate(0,0.09)"><rect x="822.4" y="-8.30" width="7.0" height="16.61" rx="0" fill="url(#blueB)" /></g><g transform="translate(0,0.11)"><rect x="827.4" y="-8.30" width="7.0" height="16.59" rx="0" fill="url(#blueB)" /></g><g transform="translate(0,0.14)"><rect x="832.4" y="-8.29" width="7.0" height="16.58" rx="0" fill="url(#blueB)" /></g><g transform="translate(0,0.17)"><rect x="837.4" y="-8.28" width="7.0" height="16.57" rx="0" fill="url(#blueB)" /></g><g transform="translate(0,0.19)"><rect x="842.4" y="-8.28" width="7.0" height="16.56" rx="0" fill="url(#blueB)" /></g><g transform="translate(0,0.22)"><rect x="847.4" y="-8.27" width="7.0" height="16.54" rx="0" fill="url(#blueB)" /></g><g transform="translate(0,0.24)"><rect x="852.5" y="-8.27" width="7.0" height="16.53" rx="0" fill="url(#blueB)" /></g><g transform="translate(0,0.27)"><rect x="857.5" y="-8.26" width="7.0" height="16.52" rx="0" fill="url(#blueB)" /></g><g transform="translate(0,0.30)"><rect x="862.5" y="-8.25" width="7.0" height="16.51" rx="0" fill="url(#blueB)" /></g><g transform="translate(0,0.32)"><rect x="867.5" y="-8.25" width="7.0" height="16.49" rx="0" fill="url(#blueB)" /></g><g transform="translate(0,0.35)"><rect x="872.5" y="-8.24" width="7.0" height="16.48" rx="0" fill="url(#blueB)" /></g><g transform="translate(0,0.38)"><rect x="877.5" y="-8.23" width="7.0" height="16.47" rx="0" fill="url(#blueB)" /></g><g transform="translate(0,0.40)"><rect x="882.5" y="-8.23" width="7.0" height="16.46" rx="0" fill="url(#blueB)" /></g><g transform="translate(0,0.43)"><rect x="887.6" y="-8.22" width="7.0" height="16.44" rx="0" fill="url(#blueB)" /></g><g transform="translate(0,0.45)"><rect x="892.6" y="-8.22" width="7.0" height="16.43" rx="0" fill="url(#blueB)" /></g><g transform="translate(0,0.48)"><rect x="897.6" y="-8.21" width="7.0" height="16.42" rx="0" fill="url(#blueB)" /></g><g transform="translate(0,0.51)"><rect x="902.6" y="-8.20" width="7.0" height="16.41" rx="0" fill="url(#blueB)" /></g><g transform="translate(0,0.53)"><rect x="907.6" y="-8.20" width="7.0" height="16.39" rx="0" fill="url(#blueB)" /></g><g transform="translate(0,0.56)"><rect x="912.6" y="-8.19" width="7.0" height="16.38" rx="0" fill="url(#blueB)" /></g><g transform="translate(0,0.59)"><rect x="917.7" y="-8.18" width="7.0" height="16.37" rx="0" fill="url(#blueB)" /></g><g transform="translate(0,0.61)"><rect x="922.7" y="-8.18" width="7.0" height="16.36" rx="0" fill="url(#blueB)" /></g><g transform="translate(0,0.64)"><rect x="927.7" y="-8.17" width="7.0" height="16.34" rx="0" fill="url(#blueB)" /></g><g transform="translate(0,0.66)"><rect x="932.7" y="-8.17" width="7.0" height="16.33" rx="0" fill="url(#blueB)" /></g><g transform="translate(0,0.69)"><rect x="937.7" y="-8.16" width="7.0" height="16.32" rx="0" fill="url(#blueB)" /></g><g transform="translate(0,0.72)"><rect x="942.7" y="-8.15" width="7.0" height="16.31" rx="0" fill="url(#blueB)" /></g><g transform="translate(0,0.74)"><rect x="947.8" y="-8.15" width="7.0" height="16.29" rx="0" fill="url(#blueB)" /></g><g transform="translate(0,0.77)"><rect x="952.8" y="-8.14" width="7.0" height="16.28" rx="0" fill="url(#blueB)" /></g><g transform="translate(0,0.79)"><rect x="957.8" y="-8.13" width="7.0" height="16.27" rx="0" fill="url(#blueB)" /></g><g transform="translate(0,0.81)"><rect x="962.8" y="-8.13" width="7.0" height="16.26" rx="0" fill="url(#blueB)" /></g><g transform="translate(0,0.84)"><rect x="967.8" y="-8.12" width="7.0" height="16.24" rx="0" fill="url(#blueB)" /></g><g transform="translate(0,0.86)"><rect x="972.8" y="-8.12" width="7.0" height="16.23" rx="0" fill="url(#blueB)" /></g><g transform="translate(0,0.88)"><rect x="977.8" y="-8.11" width="7.0" height="16.22" rx="0" fill="url(#blueB)" /></g><g transform="translate(0,0.91)"><rect x="982.9" y="-8.10" width="7.0" height="16.21" rx="0" fill="url(#blueB)" /></g><g transform="translate(0,0.93)"><rect x="987.9" y="-8.10" width="7.0" height="16.19" rx="0" fill="url(#blueB)" /></g><g transform="translate(0,0.96)"><rect x="992.9" y="-8.09" width="7.0" height="16.18" rx="0" fill="url(#blueB)" /></g><g transform="translate(0,0.98)"><rect x="997.9" y="-8.08" width="7.0" height="16.17" rx="0" fill="url(#blueB)" /></g><g transform="translate(0,1.00)"><rect x="1002.9" y="-8.08" width="7.0" height="16.16" rx="0" fill="url(#blueB)" /></g><g transform="translate(0,1.03)"><rect x="1007.9" y="-8.07" width="7.0" height="16.14" rx="0" fill="url(#blueB)" /></g><g transform="translate(0,1.05)"><rect x="1013.0" y="-8.07" width="7.0" height="16.13" rx="0" fill="url(#blueB)" /></g><g transform="translate(0,1.08)"><rect x="1018.0" y="-8.06" width="7.0" height="16.12" rx="0" fill="url(#blueB)" /></g><g transform="translate(0,1.10)"><rect x="1023.0" y="-8.05" width="7.0" height="16.11" rx="0" fill="url(#blueB)" /></g><g transform="translate(0,1.12)"><rect x="1028.0" y="-8.05" width="7.0" height="16.09" rx="0" fill="url(#blueB)" /></g><g transform="translate(0,1.15)"><rect x="1033.0" y="-8.04" width="7.0" height="16.08" rx="0" fill="url(#blueB)" /></g><g transform="translate(0,1.17)"><rect x="1038.0" y="-8.03" width="7.0" height="16.07" rx="0" fill="url(#blueB)" /></g><g transform="translate(0,1.20)"><rect x="1043.1" y="-8.03" width="7.0" height="16.06" rx="0" fill="url(#blueB)" /></g><g transform="translate(0,1.22)"><rect x="1048.1" y="-8.02" width="7.0" height="16.04" rx="0" fill="url(#blueB)" /></g><g transform="translate(0,1.24)"><rect x="1053.1" y="-8.02" width="7.0" height="16.03" rx="0" fill="url(#blueB)" /></g><g transform="translate(0,1.27)"><rect x="1058.1" y="-8.01" width="7.0" height="16.02" rx="0" fill="url(#blueB)" /></g><g transform="translate(0,1.29)"><rect x="1063.1" y="-8.00" width="5.0" height="16.01" rx="0" fill="url(#blueB)" /></g><linearGradient id="rgb1" gradientUnits="userSpaceOnUse" x1="587.3" y1="0" x2="725.4" y2="0"><stop offset="0" stop-color="#000"/><stop offset="1" stop-color="#fff"/></linearGradient><mask id="mkb1" maskUnits="userSpaceOnUse" x="-100" y="-100" width="1400" height="200"><rect x="-100" y="-100" width="1400" height="200" fill="url(#rgb1)"/></mask><g mask="url(#mkb1)"><g transform="translate(0,0.00)"><rect x="559.6" y="-8.40" width="7.0" height="16.80" rx="0" fill="url(#blueBmid)" /></g><g transform="translate(0,0.00)"><rect x="564.7" y="-8.39" width="7.0" height="16.79" rx="0" fill="url(#blueBmid)" /></g><g transform="translate(0,0.00)"><rect x="569.7" y="-8.39" width="7.0" height="16.78" rx="0" fill="url(#blueBmid)" /></g><g transform="translate(0,0.00)"><rect x="574.7" y="-8.39" width="7.0" height="16.77" rx="0" fill="url(#blueBmid)" /></g><g transform="translate(0,0.00)"><rect x="579.8" y="-8.38" width="7.0" height="16.76" rx="0" fill="url(#blueBmid)" /></g><g transform="translate(0,0.00)"><rect x="584.8" y="-8.38" width="7.0" height="16.76" rx="0" fill="url(#blueBmid)" /></g><g transform="translate(0,0.00)"><rect x="589.8" y="-8.37" width="7.0" height="16.75" rx="0" fill="url(#blueBmid)" /></g><g transform="translate(0,0.00)"><rect x="594.9" y="-8.37" width="7.0" height="16.74" rx="0" fill="url(#blueBmid)" /></g><g transform="translate(0,0.00)"><rect x="599.9" y="-8.37" width="7.0" height="16.73" rx="0" fill="url(#blueBmid)" /></g><g transform="translate(0,0.00)"><rect x="604.9" y="-8.36" width="7.0" height="16.72" rx="0" fill="url(#blueBmid)" /></g><g transform="translate(0,0.00)"><rect x="610.0" y="-8.36" width="7.0" height="16.72" rx="0" fill="url(#blueBmid)" /></g><g transform="translate(0,0.00)"><rect x="615.0" y="-8.35" width="7.0" height="16.71" rx="0" fill="url(#blueBmid)" /></g><g transform="translate(0,0.00)"><rect x="620.0" y="-8.35" width="7.0" height="16.70" rx="0" fill="url(#blueBmid)" /></g><g transform="translate(0,0.00)"><rect x="625.1" y="-8.35" width="7.0" height="16.69" rx="0" fill="url(#blueBmid)" /></g><g transform="translate(0,0.00)"><rect x="630.1" y="-8.34" width="7.0" height="16.69" rx="0" fill="url(#blueBmid)" /></g><g transform="translate(0,0.00)"><rect x="635.2" y="-8.34" width="7.0" height="16.68" rx="0" fill="url(#blueBmid)" /></g><g transform="translate(0,0.00)"><rect x="640.2" y="-8.33" width="7.0" height="16.67" rx="0" fill="url(#blueBmid)" /></g><g transform="translate(0,0.00)"><rect x="645.2" y="-8.33" width="7.0" height="16.66" rx="0" fill="url(#blueBmid)" /></g><g transform="translate(0,0.00)"><rect x="650.3" y="-8.33" width="7.0" height="16.65" rx="0" fill="url(#blueBmid)" /></g><g transform="translate(0,0.00)"><rect x="655.3" y="-8.32" width="7.0" height="16.65" rx="0" fill="url(#blueBmid)" /></g><g transform="translate(0,0.00)"><rect x="660.3" y="-8.32" width="7.0" height="16.64" rx="0" fill="url(#blueBmid)" /></g><g transform="translate(0,0.00)"><rect x="665.4" y="-8.31" width="7.0" height="16.63" rx="0" fill="url(#blueBmid)" /></g><g transform="translate(0,0.00)"><rect x="670.4" y="-8.31" width="7.0" height="16.62" rx="0" fill="url(#blueBmid)" /></g><g transform="translate(0,0.00)"><rect x="675.4" y="-8.31" width="7.0" height="16.61" rx="0" fill="url(#blueBmid)" /></g><g transform="translate(0,0.00)"><rect x="680.5" y="-8.30" width="7.0" height="16.61" rx="0" fill="url(#blueBmid)" /></g><g transform="translate(0,0.00)"><rect x="685.5" y="-8.30" width="7.0" height="16.60" rx="0" fill="url(#blueBmid)" /></g><g transform="translate(0,0.00)"><rect x="690.5" y="-8.30" width="7.0" height="16.59" rx="0" fill="url(#blueBmid)" /></g><g transform="translate(0,0.00)"><rect x="695.6" y="-8.29" width="7.0" height="16.58" rx="0" fill="url(#blueBmid)" /></g><g transform="translate(0,0.00)"><rect x="700.6" y="-8.29" width="7.0" height="16.57" rx="0" fill="url(#blueBmid)" /></g><g transform="translate(0,0.00)"><rect x="705.6" y="-8.28" width="7.0" height="16.57" rx="0" fill="url(#blueBmid)" /></g><g transform="translate(0,0.00)"><rect x="710.7" y="-8.28" width="7.0" height="16.56" rx="0" fill="url(#blueBmid)" /></g><g transform="translate(0,0.00)"><rect x="715.7" y="-8.28" width="7.0" height="16.55" rx="0" fill="url(#blueBmid)" /></g><g transform="translate(0,0.00)"><rect x="720.7" y="-8.27" width="7.0" height="16.54" rx="0" fill="url(#blueBmid)" /></g><g transform="translate(0,0.00)"><rect x="725.8" y="-8.27" width="7.0" height="16.53" rx="0" fill="url(#blueBmid)" /></g><g transform="translate(0,0.00)"><rect x="730.8" y="-8.26" width="7.0" height="16.53" rx="0" fill="url(#blueBmid)" /></g><g transform="translate(0,0.00)"><rect x="735.8" y="-8.26" width="7.0" height="16.52" rx="0" fill="url(#blueBmid)" /></g><g transform="translate(0,0.00)"><rect x="740.9" y="-8.26" width="7.0" height="16.51" rx="0" fill="url(#blueBmid)" /></g><g transform="translate(0,0.00)"><rect x="745.9" y="-8.25" width="7.0" height="16.50" rx="0" fill="url(#blueBmid)" /></g><g transform="translate(0,0.00)"><rect x="751.0" y="-8.25" width="7.0" height="16.50" rx="0" fill="url(#blueBmid)" /></g><g transform="translate(0,0.00)"><rect x="756.0" y="-8.24" width="7.0" height="16.49" rx="0" fill="url(#blueBmid)" /></g><g transform="translate(0,0.00)"><rect x="761.0" y="-8.24" width="7.0" height="16.48" rx="0" fill="url(#blueBmid)" /></g><g transform="translate(0,0.00)"><rect x="766.1" y="-8.24" width="7.0" height="16.47" rx="0" fill="url(#blueBmid)" /></g><g transform="translate(0,0.00)"><rect x="771.1" y="-8.23" width="7.0" height="16.46" rx="0" fill="url(#blueBmid)" /></g><g transform="translate(0,0.00)"><rect x="776.1" y="-8.23" width="7.0" height="16.46" rx="0" fill="url(#blueBmid)" /></g><g transform="translate(0,0.00)"><rect x="781.2" y="-8.22" width="7.0" height="16.45" rx="0" fill="url(#blueBmid)" /></g><g transform="translate(0,0.00)"><rect x="786.2" y="-8.22" width="7.0" height="16.44" rx="0" fill="url(#blueBmid)" /></g><g transform="translate(0,0.00)"><rect x="791.2" y="-8.22" width="7.0" height="16.43" rx="0" fill="url(#blueBmid)" /></g><g transform="translate(0,0.00)"><rect x="796.3" y="-8.21" width="7.0" height="16.42" rx="0" fill="url(#blueBmid)" /></g><g transform="translate(0,0.00)"><rect x="801.3" y="-8.21" width="7.0" height="16.42" rx="0" fill="url(#blueBmid)" /></g><g transform="translate(0,0.00)"><rect x="806.3" y="-8.20" width="7.0" height="16.41" rx="0" fill="url(#blueBmid)" /></g><g transform="translate(0,0.03)"><rect x="811.4" y="-8.20" width="7.0" height="16.40" rx="0" fill="url(#blueBmid)" /></g><g transform="translate(0,0.06)"><rect x="816.4" y="-8.20" width="7.0" height="16.39" rx="0" fill="url(#blueBmid)" /></g><g transform="translate(0,0.08)"><rect x="821.4" y="-8.19" width="7.0" height="16.38" rx="0" fill="url(#blueBmid)" /></g><g transform="translate(0,0.11)"><rect x="826.5" y="-8.19" width="7.0" height="16.38" rx="0" fill="url(#blueBmid)" /></g><g transform="translate(0,0.13)"><rect x="831.5" y="-8.18" width="7.0" height="16.37" rx="0" fill="url(#blueBmid)" /></g><g transform="translate(0,0.16)"><rect x="836.5" y="-8.18" width="7.0" height="16.36" rx="0" fill="url(#blueBmid)" /></g><g transform="translate(0,0.19)"><rect x="841.6" y="-8.18" width="7.0" height="16.35" rx="0" fill="url(#blueBmid)" /></g><g transform="translate(0,0.21)"><rect x="846.6" y="-8.17" width="7.0" height="16.34" rx="0" fill="url(#blueBmid)" /></g><g transform="translate(0,0.24)"><rect x="851.6" y="-8.17" width="7.0" height="16.34" rx="0" fill="url(#blueBmid)" /></g><g transform="translate(0,0.27)"><rect x="856.7" y="-8.16" width="7.0" height="16.33" rx="0" fill="url(#blueBmid)" /></g><g transform="translate(0,0.29)"><rect x="861.7" y="-8.16" width="7.0" height="16.32" rx="0" fill="url(#blueBmid)" /></g><g transform="translate(0,0.32)"><rect x="866.7" y="-8.16" width="7.0" height="16.31" rx="0" fill="url(#blueBmid)" /></g><g transform="translate(0,0.35)"><rect x="871.8" y="-8.15" width="7.0" height="16.30" rx="0" fill="url(#blueBmid)" /></g><g transform="translate(0,0.37)"><rect x="876.8" y="-8.15" width="7.0" height="16.30" rx="0" fill="url(#blueBmid)" /></g><g transform="translate(0,0.40)"><rect x="881.9" y="-8.14" width="7.0" height="16.29" rx="0" fill="url(#blueBmid)" /></g><g transform="translate(0,0.42)"><rect x="886.9" y="-8.14" width="7.0" height="16.28" rx="0" fill="url(#blueBmid)" /></g><g transform="translate(0,0.45)"><rect x="891.9" y="-8.14" width="7.0" height="16.27" rx="0" fill="url(#blueBmid)" /></g><g transform="translate(0,0.48)"><rect x="897.0" y="-8.13" width="7.0" height="16.27" rx="0" fill="url(#blueBmid)" /></g><g transform="translate(0,0.50)"><rect x="902.0" y="-8.13" width="7.0" height="16.26" rx="0" fill="url(#blueBmid)" /></g><g transform="translate(0,0.53)"><rect x="907.0" y="-8.12" width="7.0" height="16.25" rx="0" fill="url(#blueBmid)" /></g><g transform="translate(0,0.56)"><rect x="912.1" y="-8.12" width="7.0" height="16.24" rx="0" fill="url(#blueBmid)" /></g><g transform="translate(0,0.58)"><rect x="917.1" y="-8.12" width="7.0" height="16.23" rx="0" fill="url(#blueBmid)" /></g><g transform="translate(0,0.61)"><rect x="922.1" y="-8.11" width="7.0" height="16.23" rx="0" fill="url(#blueBmid)" /></g><g transform="translate(0,0.64)"><rect x="927.2" y="-8.11" width="7.0" height="16.22" rx="0" fill="url(#blueBmid)" /></g><g transform="translate(0,0.66)"><rect x="932.2" y="-8.10" width="7.0" height="16.21" rx="0" fill="url(#blueBmid)" /></g><g transform="translate(0,0.69)"><rect x="937.2" y="-8.10" width="7.0" height="16.20" rx="0" fill="url(#blueBmid)" /></g><g transform="translate(0,0.71)"><rect x="942.3" y="-8.10" width="7.0" height="16.19" rx="0" fill="url(#blueBmid)" /></g><g transform="translate(0,0.74)"><rect x="947.3" y="-8.09" width="7.0" height="16.19" rx="0" fill="url(#blueBmid)" /></g><g transform="translate(0,0.76)"><rect x="952.3" y="-8.09" width="7.0" height="16.18" rx="0" fill="url(#blueBmid)" /></g><g transform="translate(0,0.79)"><rect x="957.4" y="-8.09" width="7.0" height="16.17" rx="0" fill="url(#blueBmid)" /></g><g transform="translate(0,0.81)"><rect x="962.4" y="-8.08" width="7.0" height="16.16" rx="0" fill="url(#blueBmid)" /></g><g transform="translate(0,0.84)"><rect x="967.4" y="-8.08" width="7.0" height="16.15" rx="0" fill="url(#blueBmid)" /></g><g transform="translate(0,0.86)"><rect x="972.5" y="-8.07" width="7.0" height="16.15" rx="0" fill="url(#blueBmid)" /></g><g transform="translate(0,0.88)"><rect x="977.5" y="-8.07" width="7.0" height="16.14" rx="0" fill="url(#blueBmid)" /></g><g transform="translate(0,0.91)"><rect x="982.5" y="-8.07" width="7.0" height="16.13" rx="0" fill="url(#blueBmid)" /></g><g transform="translate(0,0.93)"><rect x="987.6" y="-8.06" width="7.0" height="16.12" rx="0" fill="url(#blueBmid)" /></g><g transform="translate(0,0.96)"><rect x="992.6" y="-8.06" width="7.0" height="16.11" rx="0" fill="url(#blueBmid)" /></g><g transform="translate(0,0.98)"><rect x="997.7" y="-8.05" width="7.0" height="16.11" rx="0" fill="url(#blueBmid)" /></g><g transform="translate(0,1.00)"><rect x="1002.7" y="-8.05" width="7.0" height="16.10" rx="0" fill="url(#blueBmid)" /></g><g transform="translate(0,1.03)"><rect x="1007.7" y="-8.05" width="7.0" height="16.09" rx="0" fill="url(#blueBmid)" /></g><g transform="translate(0,1.05)"><rect x="1012.8" y="-8.04" width="7.0" height="16.08" rx="0" fill="url(#blueBmid)" /></g><g transform="translate(0,1.07)"><rect x="1017.8" y="-8.04" width="7.0" height="16.08" rx="0" fill="url(#blueBmid)" /></g><g transform="translate(0,1.10)"><rect x="1022.8" y="-8.03" width="7.0" height="16.07" rx="0" fill="url(#blueBmid)" /></g><g transform="translate(0,1.12)"><rect x="1027.9" y="-8.03" width="7.0" height="16.06" rx="0" fill="url(#blueBmid)" /></g><g transform="translate(0,1.15)"><rect x="1032.9" y="-8.03" width="7.0" height="16.05" rx="0" fill="url(#blueBmid)" /></g><g transform="translate(0,1.17)"><rect x="1037.9" y="-8.02" width="7.0" height="16.04" rx="0" fill="url(#blueBmid)" /></g><g transform="translate(0,1.19)"><rect x="1043.0" y="-8.02" width="7.0" height="16.04" rx="0" fill="url(#blueBmid)" /></g><g transform="translate(0,1.22)"><rect x="1048.0" y="-8.01" width="7.0" height="16.03" rx="0" fill="url(#blueBmid)" /></g><g transform="translate(0,1.24)"><rect x="1053.0" y="-8.01" width="7.0" height="16.02" rx="0" fill="url(#blueBmid)" /></g><g transform="translate(0,1.27)"><rect x="1058.1" y="-8.01" width="7.0" height="16.01" rx="0" fill="url(#blueBmid)" /></g><g transform="translate(0,1.29)"><rect x="1063.1" y="-8.00" width="5.0" height="16.00" rx="0" fill="url(#blueBmid)" /></g></g><linearGradient id="rgb2" gradientUnits="userSpaceOnUse" x1="870.5" y1="0" x2="932.7" y2="0"><stop offset="0" stop-color="#000"/><stop offset="1" stop-color="#fff"/></linearGradient><mask id="mkb2" maskUnits="userSpaceOnUse" x="-100" y="-100" width="1400" height="200"><rect x="-100" y="-100" width="1400" height="200" fill="url(#rgb2)"/></mask><g mask="url(#mkb2)"><g transform="translate(0,0.23)"><rect x="849.8" y="-8.15" width="7.1" height="16.30" rx="0" fill="url(#blueBtop)" /></g><g transform="translate(0,0.26)"><rect x="854.9" y="-8.14" width="7.1" height="16.29" rx="0" fill="url(#blueBtop)" /></g><g transform="translate(0,0.28)"><rect x="860.0" y="-8.14" width="7.1" height="16.28" rx="0" fill="url(#blueBtop)" /></g><g transform="translate(0,0.31)"><rect x="865.0" y="-8.14" width="7.1" height="16.28" rx="0" fill="url(#blueBtop)" /></g><g transform="translate(0,0.34)"><rect x="870.1" y="-8.13" width="7.1" height="16.27" rx="0" fill="url(#blueBtop)" /></g><g transform="translate(0,0.36)"><rect x="875.2" y="-8.13" width="7.1" height="16.26" rx="0" fill="url(#blueBtop)" /></g><g transform="translate(0,0.39)"><rect x="880.3" y="-8.13" width="7.1" height="16.25" rx="0" fill="url(#blueBtop)" /></g><g transform="translate(0,0.42)"><rect x="885.4" y="-8.12" width="7.1" height="16.25" rx="0" fill="url(#blueBtop)" /></g><g transform="translate(0,0.44)"><rect x="890.4" y="-8.12" width="7.1" height="16.24" rx="0" fill="url(#blueBtop)" /></g><g transform="translate(0,0.47)"><rect x="895.5" y="-8.12" width="7.1" height="16.23" rx="0" fill="url(#blueBtop)" /></g><g transform="translate(0,0.50)"><rect x="900.6" y="-8.11" width="7.1" height="16.23" rx="0" fill="url(#blueBtop)" /></g><g transform="translate(0,0.52)"><rect x="905.7" y="-8.11" width="7.1" height="16.22" rx="0" fill="url(#blueBtop)" /></g><g transform="translate(0,0.55)"><rect x="910.7" y="-8.11" width="7.1" height="16.21" rx="0" fill="url(#blueBtop)" /></g><g transform="translate(0,0.58)"><rect x="915.8" y="-8.10" width="7.1" height="16.21" rx="0" fill="url(#blueBtop)" /></g><g transform="translate(0,0.60)"><rect x="920.9" y="-8.10" width="7.1" height="16.20" rx="0" fill="url(#blueBtop)" /></g><g transform="translate(0,0.63)"><rect x="926.0" y="-8.10" width="7.1" height="16.19" rx="0" fill="url(#blueBtop)" /></g><g transform="translate(0,0.66)"><rect x="931.0" y="-8.09" width="7.1" height="16.18" rx="0" fill="url(#blueBtop)" /></g><g transform="translate(0,0.68)"><rect x="936.1" y="-8.09" width="7.1" height="16.18" rx="0" fill="url(#blueBtop)" /></g><g transform="translate(0,0.71)"><rect x="941.2" y="-8.09" width="7.1" height="16.17" rx="0" fill="url(#blueBtop)" /></g><g transform="translate(0,0.73)"><rect x="946.3" y="-8.08" width="7.1" height="16.16" rx="0" fill="url(#blueBtop)" /></g><g transform="translate(0,0.76)"><rect x="951.4" y="-8.08" width="7.1" height="16.16" rx="0" fill="url(#blueBtop)" /></g><g transform="translate(0,0.78)"><rect x="956.4" y="-8.07" width="7.1" height="16.15" rx="0" fill="url(#blueBtop)" /></g><g transform="translate(0,0.81)"><rect x="961.5" y="-8.07" width="7.1" height="16.14" rx="0" fill="url(#blueBtop)" /></g><g transform="translate(0,0.83)"><rect x="966.6" y="-8.07" width="7.1" height="16.14" rx="0" fill="url(#blueBtop)" /></g><g transform="translate(0,0.86)"><rect x="971.7" y="-8.06" width="7.1" height="16.13" rx="0" fill="url(#blueBtop)" /></g><g transform="translate(0,0.88)"><rect x="976.7" y="-8.06" width="7.1" height="16.12" rx="0" fill="url(#blueBtop)" /></g><g transform="translate(0,0.90)"><rect x="981.8" y="-8.06" width="7.1" height="16.12" rx="0" fill="url(#blueBtop)" /></g><g transform="translate(0,0.93)"><rect x="986.9" y="-8.05" width="7.1" height="16.11" rx="0" fill="url(#blueBtop)" /></g><g transform="translate(0,0.95)"><rect x="992.0" y="-8.05" width="7.1" height="16.10" rx="0" fill="url(#blueBtop)" /></g><g transform="translate(0,0.98)"><rect x="997.1" y="-8.05" width="7.1" height="16.09" rx="0" fill="url(#blueBtop)" /></g><g transform="translate(0,1.00)"><rect x="1002.1" y="-8.04" width="7.1" height="16.09" rx="0" fill="url(#blueBtop)" /></g><g transform="translate(0,1.02)"><rect x="1007.2" y="-8.04" width="7.1" height="16.08" rx="0" fill="url(#blueBtop)" /></g><g transform="translate(0,1.05)"><rect x="1012.3" y="-8.04" width="7.1" height="16.07" rx="0" fill="url(#blueBtop)" /></g><g transform="translate(0,1.07)"><rect x="1017.4" y="-8.03" width="7.1" height="16.07" rx="0" fill="url(#blueBtop)" /></g><g transform="translate(0,1.10)"><rect x="1022.4" y="-8.03" width="7.1" height="16.06" rx="0" fill="url(#blueBtop)" /></g><g transform="translate(0,1.12)"><rect x="1027.5" y="-8.03" width="7.1" height="16.05" rx="0" fill="url(#blueBtop)" /></g><g transform="translate(0,1.15)"><rect x="1032.6" y="-8.02" width="7.1" height="16.05" rx="0" fill="url(#blueBtop)" /></g><g transform="translate(0,1.17)"><rect x="1037.7" y="-8.02" width="7.1" height="16.04" rx="0" fill="url(#blueBtop)" /></g><g transform="translate(0,1.19)"><rect x="1042.8" y="-8.02" width="7.1" height="16.03" rx="0" fill="url(#blueBtop)" /></g><g transform="translate(0,1.22)"><rect x="1047.8" y="-8.01" width="7.1" height="16.02" rx="0" fill="url(#blueBtop)" /></g><g transform="translate(0,1.24)"><rect x="1052.9" y="-8.01" width="7.1" height="16.02" rx="0" fill="url(#blueBtop)" /></g><g transform="translate(0,1.27)"><rect x="1058.0" y="-8.01" width="7.1" height="16.01" rx="0" fill="url(#blueBtop)" /></g><g transform="translate(0,1.29)"><rect x="1063.1" y="-8.00" width="5.1" height="16.00" rx="0" fill="url(#blueBtop)" /></g></g><g transform="translate(0,0.00)"><rect x="391.7" y="-9.50" width="22.0" height="19.00" rx="1" fill="url(#wrap)" transform="translate(0,-1.8)"/></g><g transform="translate(0,0.00)"><rect x="440.3" y="-9.50" width="22.0" height="19.00" rx="1" fill="url(#wrap)" transform="translate(0,-1.8)"/></g><g transform="translate(0,0.21)"><rect x="837.4" y="-8.50" width="24.0" height="17.00" rx="1" fill="url(#wrap)" transform="translate(0,-1.8)"/></g><g transform="translate(0,0.49)"><rect x="890.6" y="-8.50" width="24.0" height="17.00" rx="1" fill="url(#wrap)" transform="translate(0,-1.8)"/></g><g transform="translate(0,1.37)"><rect x="1065.4" y="-8.50" width="33.2" height="17.00" rx="4" fill="#0d0d0f" /></g></g>
<g transform="translate(181.00,952.52) rotate(-43.950)"><g transform="translate(0,0.00)"><ellipse cx="-3" cy="0" rx="6" ry="13" fill="url(#capg)"/></g><g transform="translate(0,0.00)"><rect x="4.0" y="-9.50" width="29.3" height="19.00" rx="0" fill="url(#metal)" /></g><g transform="translate(0,0.00)"><rect x="31.9" y="-14.50" width="94.5" height="29.00" rx="1.5" fill="url(#eva)" /></g><g transform="translate(0,0.00)"><rect x="123.6" y="-10.75" width="7.1" height="21.50" rx="0" fill="url(#blueC)" /></g><g transform="translate(0,0.00)"><rect x="128.7" y="-10.74" width="7.1" height="21.49" rx="0" fill="url(#blueC)" /></g><g transform="translate(0,0.00)"><rect x="133.7" y="-10.74" width="7.1" height="21.48" rx="0" fill="url(#blueC)" /></g><g transform="translate(0,0.00)"><rect x="138.8" y="-10.73" width="7.1" height="21.47" rx="0" fill="url(#blueC)" /></g><g transform="translate(0,0.00)"><rect x="143.9" y="-10.73" width="7.1" height="21.46" rx="0" fill="url(#blueC)" /></g><g transform="translate(0,0.00)"><rect x="148.9" y="-10.73" width="7.1" height="21.45" rx="0" fill="url(#blueC)" /></g><g transform="translate(0,0.00)"><rect x="154.0" y="-10.72" width="7.1" height="21.44" rx="0" fill="url(#blueC)" /></g><g transform="translate(0,0.00)"><rect x="159.0" y="-10.72" width="7.1" height="21.43" rx="0" fill="url(#blueC)" /></g><g transform="translate(0,0.00)"><rect x="164.1" y="-10.71" width="7.1" height="21.42" rx="0" fill="url(#blueC)" /></g><g transform="translate(0,0.00)"><rect x="169.2" y="-10.71" width="7.1" height="21.42" rx="0" fill="url(#blueC)" /></g><g transform="translate(0,0.00)"><rect x="174.2" y="-10.70" width="7.1" height="21.41" rx="0" fill="url(#blueC)" /></g><g transform="translate(0,0.00)"><rect x="179.3" y="-10.70" width="7.1" height="21.40" rx="0" fill="url(#blueC)" /></g><g transform="translate(0,0.00)"><rect x="184.3" y="-10.69" width="7.1" height="21.39" rx="0" fill="url(#blueC)" /></g><g transform="translate(0,0.00)"><rect x="189.4" y="-10.69" width="7.1" height="21.38" rx="0" fill="url(#blueC)" /></g><g transform="translate(0,0.00)"><rect x="194.5" y="-10.69" width="7.1" height="21.37" rx="0" fill="url(#blueC)" /></g><g transform="translate(0,0.00)"><rect x="199.5" y="-10.68" width="7.1" height="21.36" rx="0" fill="url(#blueC)" /></g><g transform="translate(0,0.00)"><rect x="204.6" y="-10.68" width="7.1" height="21.35" rx="0" fill="url(#blueC)" /></g><g transform="translate(0,0.00)"><rect x="209.6" y="-10.67" width="7.1" height="21.34" rx="0" fill="url(#blueC)" /></g><g transform="translate(0,0.00)"><rect x="214.7" y="-10.67" width="7.1" height="21.33" rx="0" fill="url(#blueC)" /></g><g transform="translate(0,0.00)"><rect x="219.8" y="-10.66" width="7.1" height="21.33" rx="0" fill="url(#blueC)" /></g><g transform="translate(0,0.00)"><rect x="224.8" y="-10.66" width="7.1" height="21.32" rx="0" fill="url(#blueC)" /></g><g transform="translate(0,0.00)"><rect x="229.9" y="-10.65" width="7.1" height="21.31" rx="0" fill="url(#blueC)" /></g><g transform="translate(0,-0.01)"><rect x="234.9" y="-10.65" width="7.1" height="21.30" rx="0" fill="url(#blueC)" /></g><g transform="translate(0,-0.03)"><rect x="240.0" y="-10.65" width="7.1" height="21.29" rx="0" fill="url(#blueC)" /></g><g transform="translate(0,-0.06)"><rect x="245.1" y="-10.64" width="7.1" height="21.28" rx="0" fill="url(#blueC)" /></g><g transform="translate(0,-0.08)"><rect x="250.1" y="-10.64" width="7.1" height="21.27" rx="0" fill="url(#blueC)" /></g><g transform="translate(0,-0.10)"><rect x="255.2" y="-10.63" width="7.1" height="21.26" rx="0" fill="url(#blueC)" /></g><g transform="translate(0,-0.12)"><rect x="260.2" y="-10.63" width="7.1" height="21.25" rx="0" fill="url(#blueC)" /></g><g transform="translate(0,-0.14)"><rect x="265.3" y="-10.62" width="7.1" height="21.25" rx="0" fill="url(#blueC)" /></g><g transform="translate(0,-0.16)"><rect x="270.4" y="-10.62" width="7.1" height="21.24" rx="0" fill="url(#blueC)" /></g><g transform="translate(0,-0.19)"><rect x="275.4" y="-10.61" width="7.1" height="21.23" rx="0" fill="url(#blueC)" /></g><g transform="translate(0,-0.21)"><rect x="280.5" y="-10.61" width="7.1" height="21.22" rx="0" fill="url(#blueC)" /></g><g transform="translate(0,-0.23)"><rect x="285.5" y="-10.60" width="7.1" height="21.21" rx="0" fill="url(#blueC)" /></g><g transform="translate(0,-0.25)"><rect x="290.6" y="-10.60" width="7.1" height="21.20" rx="0" fill="url(#blueC)" /></g><g transform="translate(0,-0.27)"><rect x="295.7" y="-10.60" width="7.1" height="21.19" rx="0" fill="url(#blueC)" /></g><g transform="translate(0,-0.30)"><rect x="300.7" y="-10.59" width="7.1" height="21.18" rx="0" fill="url(#blueC)" /></g><g transform="translate(0,-0.32)"><rect x="305.8" y="-10.59" width="7.1" height="21.17" rx="0" fill="url(#blueC)" /></g><g transform="translate(0,-0.34)"><rect x="310.8" y="-10.58" width="7.1" height="21.17" rx="0" fill="url(#blueC)" /></g><g transform="translate(0,-0.36)"><rect x="315.9" y="-10.58" width="7.1" height="21.16" rx="0" fill="url(#blueC)" /></g><g transform="translate(0,-0.38)"><rect x="321.0" y="-10.57" width="7.1" height="21.15" rx="0" fill="url(#blueC)" /></g><g transform="translate(0,-0.41)"><rect x="326.0" y="-10.57" width="7.1" height="21.14" rx="0" fill="url(#blueC)" /></g><g transform="translate(0,-0.43)"><rect x="331.1" y="-10.56" width="7.1" height="21.13" rx="0" fill="url(#blueC)" /></g><g transform="translate(0,-0.45)"><rect x="336.1" y="-10.56" width="7.1" height="21.12" rx="0" fill="url(#blueC)" /></g><g transform="translate(0,-0.47)"><rect x="341.2" y="-10.56" width="7.1" height="21.11" rx="0" fill="url(#blueC)" /></g><g transform="translate(0,-0.49)"><rect x="346.3" y="-10.55" width="7.1" height="21.10" rx="0" fill="url(#blueC)" /></g><g transform="translate(0,-0.51)"><rect x="351.3" y="-10.55" width="7.1" height="21.09" rx="0" fill="url(#blueC)" /></g><g transform="translate(0,-0.54)"><rect x="356.4" y="-10.54" width="7.1" height="21.08" rx="0" fill="url(#blueC)" /></g><g transform="translate(0,-0.56)"><rect x="361.4" y="-10.54" width="7.1" height="21.08" rx="0" fill="url(#blueC)" /></g><g transform="translate(0,-0.58)"><rect x="366.5" y="-10.53" width="7.1" height="21.07" rx="0" fill="url(#blueC)" /></g><g transform="translate(0,-0.60)"><rect x="371.6" y="-10.53" width="7.1" height="21.06" rx="0" fill="url(#blueC)" /></g><g transform="translate(0,-0.62)"><rect x="376.6" y="-10.52" width="7.1" height="21.05" rx="0" fill="url(#blueC)" /></g><g transform="translate(0,-0.65)"><rect x="381.7" y="-10.52" width="7.1" height="21.04" rx="0" fill="url(#blueC)" /></g><g transform="translate(0,-0.67)"><rect x="386.7" y="-10.52" width="7.1" height="21.03" rx="0" fill="url(#blueC)" /></g><g transform="translate(0,-0.69)"><rect x="391.8" y="-10.51" width="7.1" height="21.02" rx="0" fill="url(#blueC)" /></g><g transform="translate(0,-0.71)"><rect x="396.9" y="-10.51" width="7.1" height="21.01" rx="0" fill="url(#blueC)" /></g><g transform="translate(0,-0.72)"><rect x="401.9" y="-10.50" width="5.1" height="21.00" rx="0" fill="url(#blueC)" /></g><g transform="translate(0,-0.72)"><rect x="404.2" y="-14.00" width="109.7" height="28.00" rx="1.5" fill="url(#eva)" /></g><g transform="translate(0,-0.72)"><rect x="512.5" y="-9.50" width="15.3" height="19.00" rx="0" fill="url(#metal)" /></g><g transform="translate(0,-0.72)"><rect x="526.4" y="-12.00" width="52.8" height="24.00" rx="1.5" fill="url(#eva)" /></g><g transform="translate(0,-0.72)"><rect x="577.8" y="-9.50" width="11.1" height="19.00" rx="0" fill="url(#metal)" /></g><g transform="translate(0,-0.67)"><rect x="587.5" y="-12.50" width="18.1" height="25.00" rx="2" fill="#141416" /></g><g transform="translate(0,-0.55)"><path d="M604.2,-12.00 L666.7,-11.00 L666.7,11.00 L604.2,12.00Z" fill="url(#seat)" /></g><g transform="translate(0,-0.37)"><path d="M665.3,-10.50 L712.5,-10.00 L712.5,10.00 L665.3,10.50Z" fill="url(#seat)" /></g><g transform="translate(0,-0.22)"><rect x="709.8" y="-14.00" width="50.0" height="28.00" rx="1.5" fill="url(#eva)" /></g><g transform="translate(0,-0.14)"><rect x="758.4" y="-10.50" width="4.2" height="21.00" rx="0" fill="url(#metal)" /></g><g transform="translate(0,-0.09)"><rect x="761.2" y="-10.50" width="29.2" height="21.00" rx="0" fill="#111114" /></g><g transform="translate(0,-0.04)"><rect x="788.9" y="-10.50" width="7.1" height="20.99" rx="0" fill="url(#blueCtop)" /></g><g transform="translate(0,-0.02)"><rect x="794.0" y="-10.49" width="7.1" height="20.98" rx="0" fill="url(#blueCtop)" /></g><g transform="translate(0,-0.01)"><rect x="799.1" y="-10.48" width="7.1" height="20.96" rx="0" fill="url(#blueCtop)" /></g><g transform="translate(0,0.03)"><rect x="804.2" y="-10.47" width="7.1" height="20.94" rx="0" fill="url(#blueCtop)" /></g><g transform="translate(0,0.09)"><rect x="809.3" y="-10.46" width="7.1" height="20.93" rx="0" fill="url(#blueCtop)" /></g><g transform="translate(0,0.15)"><rect x="814.3" y="-10.45" width="7.1" height="20.91" rx="0" fill="url(#blueCtop)" /></g><g transform="translate(0,0.20)"><rect x="819.4" y="-10.45" width="7.1" height="20.89" rx="0" fill="url(#blueCtop)" /></g><g transform="translate(0,0.26)"><rect x="824.5" y="-10.44" width="7.1" height="20.88" rx="0" fill="url(#blueCtop)" /></g><g transform="translate(0,0.32)"><rect x="829.6" y="-10.43" width="7.1" height="20.86" rx="0" fill="url(#blueCtop)" /></g><g transform="translate(0,0.38)"><rect x="834.6" y="-10.42" width="7.1" height="20.84" rx="0" fill="url(#blueCtop)" /></g><g transform="translate(0,0.44)"><rect x="839.7" y="-10.41" width="7.1" height="20.83" rx="0" fill="url(#blueCtop)" /></g><g transform="translate(0,0.50)"><rect x="844.8" y="-10.41" width="7.1" height="20.81" rx="0" fill="url(#blueCtop)" /></g><g transform="translate(0,0.56)"><rect x="849.9" y="-10.40" width="7.1" height="20.80" rx="0" fill="url(#blueCtop)" /></g><g transform="translate(0,0.61)"><rect x="855.0" y="-10.39" width="7.1" height="20.78" rx="0" fill="url(#blueCtop)" /></g><g transform="translate(0,0.67)"><rect x="860.0" y="-10.38" width="7.1" height="20.76" rx="0" fill="url(#blueCtop)" /></g><g transform="translate(0,0.73)"><rect x="865.1" y="-10.37" width="7.1" height="20.75" rx="0" fill="url(#blueCtop)" /></g><g transform="translate(0,0.79)"><rect x="870.2" y="-10.36" width="7.1" height="20.73" rx="0" fill="url(#blueCtop)" /></g><g transform="translate(0,0.85)"><rect x="875.3" y="-10.36" width="7.1" height="20.71" rx="0" fill="url(#blueCtop)" /></g><g transform="translate(0,0.91)"><rect x="880.3" y="-10.35" width="7.1" height="20.70" rx="0" fill="url(#blueCtop)" /></g><g transform="translate(0,0.96)"><rect x="885.4" y="-10.34" width="7.1" height="20.68" rx="0" fill="url(#blueCtop)" /></g><g transform="translate(0,1.02)"><rect x="890.5" y="-10.33" width="7.1" height="20.66" rx="0" fill="url(#blueCtop)" /></g><g transform="translate(0,1.08)"><rect x="895.6" y="-10.32" width="7.1" height="20.65" rx="0" fill="url(#blueCtop)" /></g><g transform="translate(0,1.14)"><rect x="900.7" y="-10.32" width="7.1" height="20.63" rx="0" fill="url(#blueCtop)" /></g><g transform="translate(0,1.20)"><rect x="905.7" y="-10.31" width="7.1" height="20.61" rx="0" fill="url(#blueCtop)" /></g><g transform="translate(0,1.26)"><rect x="910.8" y="-10.30" width="7.1" height="20.60" rx="0" fill="url(#blueCtop)" /></g><g transform="translate(0,1.32)"><rect x="915.9" y="-10.29" width="7.1" height="20.58" rx="0" fill="url(#blueCtop)" /></g><g transform="translate(0,1.37)"><rect x="921.0" y="-10.28" width="7.1" height="20.57" rx="0" fill="url(#blueCtop)" /></g><g transform="translate(0,1.43)"><rect x="926.0" y="-10.27" width="7.1" height="20.55" rx="0" fill="url(#blueCtop)" /></g><g transform="translate(0,1.47)"><rect x="931.1" y="-10.27" width="7.1" height="20.53" rx="0" fill="url(#blueCtop)" /></g><g transform="translate(0,1.49)"><rect x="936.2" y="-10.26" width="7.1" height="20.52" rx="0" fill="url(#blueCtop)" /></g><g transform="translate(0,1.52)"><rect x="941.3" y="-10.25" width="7.1" height="20.50" rx="0" fill="url(#blueCtop)" /></g><g transform="translate(0,1.55)"><rect x="946.4" y="-10.24" width="7.1" height="20.48" rx="0" fill="url(#blueCtop)" /></g><g transform="translate(0,1.58)"><rect x="951.4" y="-10.23" width="7.1" height="20.47" rx="0" fill="url(#blueCtop)" /></g><g transform="translate(0,1.61)"><rect x="956.5" y="-10.23" width="7.1" height="20.45" rx="0" fill="url(#blueCtop)" /></g><g transform="translate(0,1.64)"><rect x="961.6" y="-10.22" width="7.1" height="20.43" rx="0" fill="url(#blueCtop)" /></g><g transform="translate(0,1.67)"><rect x="966.7" y="-10.21" width="7.1" height="20.42" rx="0" fill="url(#blueCtop)" /></g><g transform="translate(0,1.70)"><rect x="971.7" y="-10.20" width="7.1" height="20.40" rx="0" fill="url(#blueCtop)" /></g><g transform="translate(0,1.73)"><rect x="976.8" y="-10.19" width="7.1" height="20.39" rx="0" fill="url(#blueCtop)" /></g><g transform="translate(0,1.76)"><rect x="981.9" y="-10.18" width="7.1" height="20.37" rx="0" fill="url(#blueCtop)" /></g><g transform="translate(0,1.79)"><rect x="987.0" y="-10.18" width="7.1" height="20.35" rx="0" fill="url(#blueCtop)" /></g><g transform="translate(0,1.82)"><rect x="992.1" y="-10.17" width="7.1" height="20.34" rx="0" fill="url(#blueCtop)" /></g><g transform="translate(0,1.85)"><rect x="997.1" y="-10.16" width="7.1" height="20.32" rx="0" fill="url(#blueCtop)" /></g><g transform="translate(0,1.87)"><rect x="1002.2" y="-10.15" width="7.1" height="20.30" rx="0" fill="url(#blueCtop)" /></g><g transform="translate(0,1.90)"><rect x="1007.3" y="-10.14" width="7.1" height="20.29" rx="0" fill="url(#blueCtop)" /></g><g transform="translate(0,1.93)"><rect x="1012.4" y="-10.14" width="7.1" height="20.27" rx="0" fill="url(#blueCtop)" /></g><g transform="translate(0,1.96)"><rect x="1017.4" y="-10.13" width="7.1" height="20.25" rx="0" fill="url(#blueCtop)" /></g><g transform="translate(0,1.99)"><rect x="1022.5" y="-10.12" width="7.1" height="20.24" rx="0" fill="url(#blueCtop)" /></g><g transform="translate(0,2.02)"><rect x="1027.6" y="-10.11" width="7.1" height="20.22" rx="0" fill="url(#blueCtop)" /></g><g transform="translate(0,2.05)"><rect x="1032.7" y="-10.10" width="7.1" height="20.20" rx="0" fill="url(#blueCtop)" /></g><g transform="translate(0,2.08)"><rect x="1037.8" y="-10.09" width="7.1" height="20.19" rx="0" fill="url(#blueCtop)" /></g><g transform="translate(0,2.11)"><rect x="1042.8" y="-10.09" width="7.1" height="20.17" rx="0" fill="url(#blueCtop)" /></g><g transform="translate(0,2.14)"><rect x="1047.9" y="-10.08" width="7.1" height="20.16" rx="0" fill="url(#blueCtop)" /></g><g transform="translate(0,2.17)"><rect x="1053.0" y="-10.07" width="7.1" height="20.14" rx="0" fill="url(#blueCtop)" /></g><g transform="translate(0,2.23)"><rect x="1058.1" y="-10.06" width="7.1" height="20.12" rx="0" fill="url(#blueCtop)" /></g><g transform="translate(0,2.28)"><rect x="1063.1" y="-10.05" width="7.1" height="20.11" rx="0" fill="url(#blueCtop)" /></g><g transform="translate(0,2.33)"><rect x="1068.2" y="-10.05" width="7.1" height="20.09" rx="0" fill="url(#blueCtop)" /></g><g transform="translate(0,2.38)"><rect x="1073.3" y="-10.04" width="7.1" height="20.07" rx="0" fill="url(#blueCtop)" /></g><g transform="translate(0,2.44)"><rect x="1078.4" y="-10.03" width="7.1" height="20.06" rx="0" fill="url(#blueCtop)" /></g><g transform="translate(0,2.49)"><rect x="1083.5" y="-10.02" width="7.1" height="20.04" rx="0" fill="url(#blueCtop)" /></g><g transform="translate(0,2.54)"><rect x="1088.5" y="-10.01" width="7.1" height="20.02" rx="0" fill="url(#blueCtop)" /></g><g transform="translate(0,2.59)"><rect x="1093.6" y="-10.00" width="5.1" height="20.01" rx="0" fill="url(#blueCtop)" /></g><g transform="translate(0,0.10)"><rect x="800.1" y="-3.50" width="26.4" height="7.00" rx="0" fill="#b8b8bc" transform="translate(0,-3)"/></g><g transform="translate(0,2.72)"><rect x="1093.1" y="-10.50" width="30.6" height="21.00" rx="4" fill="#0c0c0e" /></g></g>
<path d="M287,544 L312,546 M305,528 Q314,537 312,546" stroke="#141414" stroke-width="1.6" fill="none"/><path d="M312,546 L329,564" stroke="#121212" stroke-width="3.0" stroke-linecap="round"/><path d="M466,372 L490,375 M483,356 Q492,366 490,375" stroke="#141414" stroke-width="1.6" fill="none"/><path d="M490,375 L507,391" stroke="#121212" stroke-width="3.0" stroke-linecap="round"/><path d="M617,228 L640,230 M634,212 Q642,221 640,230" stroke="#141414" stroke-width="1.6" fill="none"/><path d="M640,230 L657,248" stroke="#121212" stroke-width="3.0" stroke-linecap="round"/><path d="M415,570 L439.4,571.6 M438,548 Q441.4,562.6 439.4,571.6" stroke="#141414" stroke-width="1.6" fill="none"/><path d="M439.4,571.6 L475,614" stroke="#121212" stroke-width="3.4" stroke-linecap="round"/><path d="M740,265 L763.8,263.8 M760,243 Q765.8,254.8 763.8,263.8" stroke="#141414" stroke-width="1.6" fill="none"/><path d="M763.8,263.8 L787,285" stroke="#121212" stroke-width="3.2" stroke-linecap="round"/>
<line x1="475.5" y1="138.2" x2="716" y2="138.2" stroke="#222" stroke-width="1.5"/><line x1="224" y1="518.6" x2="302" y2="518.6" stroke="#222" stroke-width="1.5"/><line x1="453" y1="594.4" x2="716.2" y2="594.4" stroke="#222" stroke-width="1.5"/><line x1="250.3" y1="908.7" x2="456.7" y2="908.7" stroke="#222" stroke-width="1.5"/>
<g font-family="Liberation Sans, sans-serif" fill="#111">
<text x="262" y="301.4" font-size="24">Extra-sensitive tip</text>
<text x="49.5" y="578.8" font-size="24">Ceramic rings</text>
<text x="741.8" y="756.2" font-size="24">Herringbone stainless</text>
<text x="741.8" y="785.6" font-size="24">steel bracket guides</text>
<text x="717" y="959" font-size="24.5">Soft EVA handle</text>
</g>
</svg></body></html>
